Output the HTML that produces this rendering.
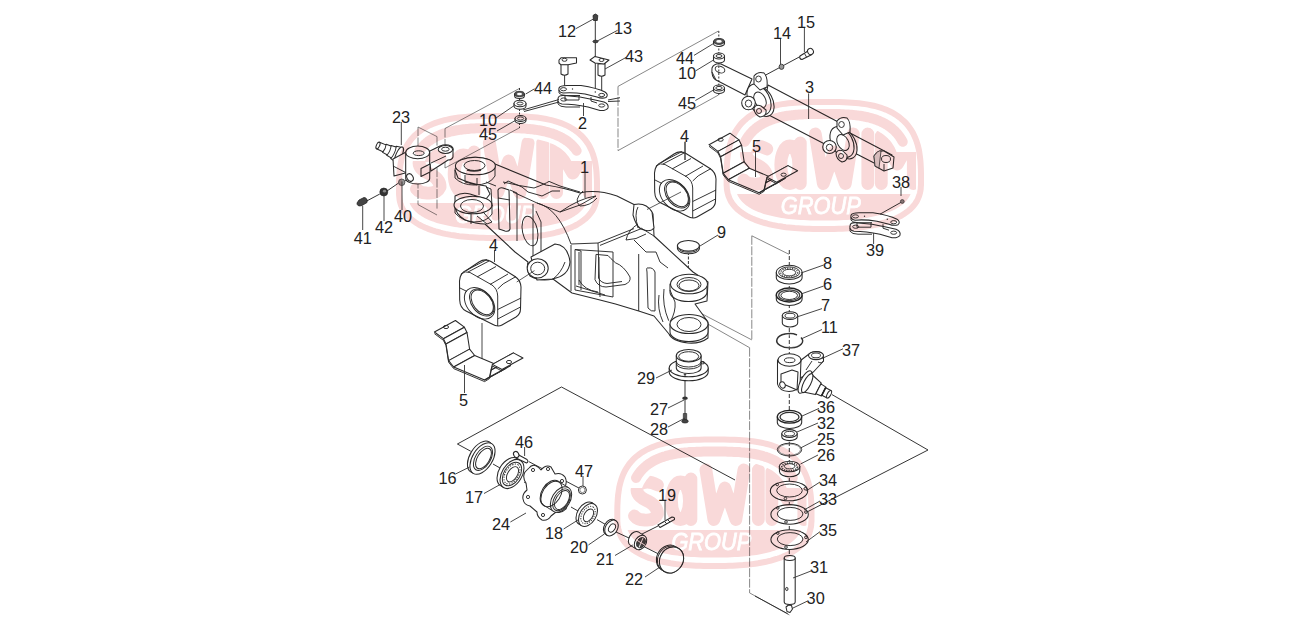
<!DOCTYPE html>
<html><head><meta charset="utf-8"><style>
html,body{margin:0;padding:0;background:#fff;width:1297px;height:621px;overflow:hidden}
svg{display:block}
.p{fill:#fff;stroke:#2a2a2a;stroke-width:1.05;stroke-linejoin:round}
.n{fill:none;stroke:#2a2a2a;stroke-width:0.95}
.k{fill:#444;stroke:#222;stroke-width:0.8}
.g{fill:#ddd;stroke:#333;stroke-width:0.8}
</style></head><body>
<svg width="1297" height="621" viewBox="0 0 1297 621">
<rect width="1297" height="621" fill="#fff"/>
<polyline points="718.5,31 618,86.4" fill="none" stroke="#555" stroke-width="0.7"/>
<polyline points="618,86.4 618,150.6" fill="none" stroke="#555" stroke-width="0.7" stroke-dasharray="9 1.5"/>
<polyline points="618,150.6 718.5,95" fill="none" stroke="#555" stroke-width="0.7"/>
<polyline points="519.5,88.4 445,128.5" fill="none" stroke="#555" stroke-width="0.7"/>
<polyline points="445,128.5 445,168" fill="none" stroke="#555" stroke-width="0.7" stroke-dasharray="9 1.5"/>
<polyline points="445,168 519.5,127.8" fill="none" stroke="#555" stroke-width="0.7"/>
<polyline points="418,127 437,136.6" fill="none" stroke="#555" stroke-width="0.7"/>
<polyline points="437,136.6 437,209" fill="none" stroke="#555" stroke-width="0.7" stroke-dasharray="9 1.5"/>
<polyline points="418,127 418,204.6" fill="none" stroke="#555" stroke-width="0.7" stroke-dasharray="9 1.5"/>
<polyline points="418,204.6 437,215" fill="none" stroke="#555" stroke-width="0.7"/>
<polyline points="789,254.3 751.8,235.8" fill="none" stroke="#555" stroke-width="0.7"/>
<polyline points="751.8,235.8 751.8,339.9" fill="none" stroke="#555" stroke-width="0.7" stroke-dasharray="9 1.5"/>
<polyline points="751.8,339.9 700,312.8" fill="none" stroke="#555" stroke-width="0.7"/>
<polyline points="700,319.6 749.6,347.7" fill="none" stroke="#555" stroke-width="0.7"/>
<polyline points="749.6,347.7 749.6,592.9" fill="none" stroke="#555" stroke-width="0.7" stroke-dasharray="9 1.5"/>
<polyline points="749.6,592.9 789.4,615" fill="none" stroke="#555" stroke-width="0.7"/>
<!-- main axle body 1 -->
<g id="p1">
 <!-- silhouette -->
 <path class="p" d="M455,170 Q456,160 470,157.5 Q487,156 495,164 L546,185 Q565,188 580,193 Q596,189 617,196 L634,204.5 Q648,204 653,214 L654,236 L693,272 L708,282 L707,301 L695,304 L708,322 L708,338 Q700,344 688,343 Q672,341 669,334 L654,316 L638.7,311 L615.5,304 L600,300 L572,293 L553,279 Q540,282 530,276 Q526,270 528,262 L515,252 L485,224 Q476,224 465,220 Q455,214 455,205 L455,196 Q462,192 470,194 L486,199 L490,194 L486,186 Q470,184 458,178 Z"/>
 <!-- upper left boss -->
 <path class="n" d="M455,170 L455,178 Q462,185 474,185 Q490,185 495,176 L495,166"/>
 <ellipse class="p" cx="475.4" cy="166" rx="20" ry="8.7"/>
 <ellipse class="n" cx="474.5" cy="165.5" rx="10.5" ry="5" stroke-width="1"/>
 <path d="M467,170 Q474,172 481,170" stroke="#333" stroke-width="1.4" fill="none"/>
 <path class="n" d="M465,175 L465,182 L477,185 L477,178 M486,182 L496,186"/>
 <!-- lower left boss -->
 <path class="n" d="M455,205 L455,213 Q462,221 474,222 Q487,222 492,214 L492,205"/>
 <ellipse class="p" cx="473" cy="205" rx="19" ry="8.7"/>
 <ellipse class="n" cx="472" cy="206" rx="11.5" ry="6.5"/>
 <path class="n" d="M471,214 L471,224 M477,216 L487,224 L492,222 L484,213"/>
 <!-- web between bosses -->
 <path class="n" d="M479,186 L479,195 M486,187 L491,189 L492,206"/>
 <!-- rib plate -->
 <path class="p" d="M498,190 Q499,187 503,188 L509,190 L510,229 Q509,232 505,231 L499,229 Z"/>
 <path class="n" d="M510,190 L517,193 L517,241 M498,198 L510,200"/>
 <!-- top surface lines -->
 <path class="n" d="M504,184 L508,181 L522,187 L528,192 L542,196 L552,191 L560,191"/>
 <path class="n" d="M513,192 L537,203 L560,212 L580,205 L596,196 M560,212 Q580,198 596,196"/>
 <path class="n" d="M537,203 Q558,208 571,244 L598,243 L634,228.6"/>
 <path class="n" d="M583,191 Q573,200 580,206 Q590,206 597,198"/>
 <!-- oval window left -->
 <ellipse class="n" cx="530" cy="231" rx="7.5" ry="15" transform="rotate(-12 530 231)"/>
 <path class="n" d="M533,204 L533,257 M536,211 L541,222 L541,255 M503,182 Q520,186 534,188 Q545,184 549,181.4 L560,186 L580,192"/>
 <!-- saddle pad -->
 <path class="p" d="M634,204.5 Q646,202 652,212 L654,228 Q650,233 641,229 Q636,226 633,215 Z"/>
 <path class="n" d="M638,207 Q634,214 638,228"/>
 <!-- front face box -->
 <path class="n" d="M571,245 L571,291 M575,249.5 L575,290 L613,297 L613,252 L575,249.5 M579,252 L579,285 M598,243 L600,297"/>
 <path class="n" d="M596,254.4 L595,279.7 Q598,287 606,287 L625,284.5 Q631,282 630,277 Q624,266 615.5,262.8 Q610,258 608,255.5 Z"/>
 <path class="n" d="M599,257 L598.5,278 Q601,283 607,283.5 L622,281.5"/>
 <path class="n" d="M575,249.5 L581,251 L581,290 M576,286 L605,295 M664,289 Q662,305 668.7,320.7 M659,295 Q657,309 663,322"/>
 <path class="n" d="M579,280 Q584,290 598,292"/>
 <!-- right arm lines -->
 <path class="n" d="M641,228 L654,236 M600,245.4 L641,228.7 M638.7,254 L638.7,311 M634,240 L646,252 L656,252 L660,262 L668,268"/>
 <path class="n" d="M648,268 Q646,267 647,272 L648,308 Q651,312 655,311 L655,272 Q653,267 648,268 Z"/>
 <path class="n" d="M638,224 Q628,230 626,240 Q636,240 646,234"/>
 <!-- front pivot boss -->
 <path class="p" d="M531,257 L555,244 Q568,245 570,262 Q569,276 552,279 L537,280 Z"/>
 <ellipse class="p" cx="537.7" cy="268.3" rx="10.5" ry="9.6"/>
 <ellipse class="n" cx="537.7" cy="268.5" rx="7" ry="6.3" stroke-width="1"/>
 <path class="n" d="M553,279 Q561,273 565,262"/>
 <!-- right bosses -->
 <path class="p" d="M670,284 L670,292 A18.5,9.5 0 0 0 707,292 L707,284 Z"/>
 <ellipse class="p" cx="689" cy="284" rx="18.5" ry="9.8"/>
 <ellipse class="n" cx="689" cy="284.5" rx="12" ry="7" stroke-width="1"/>
 <ellipse class="n" cx="689" cy="285.5" rx="10" ry="5.5"/>
 <path class="n" d="M670,290 L675,302 M675,302 Q676,312 670,322"/>
 <path class="p" d="M670,324 L670,332 A19,9.5 0 0 0 708,332 L708,324 Z"/>
 <ellipse class="p" cx="689" cy="324" rx="19" ry="9.5"/>
 <ellipse class="n" cx="689" cy="324.5" rx="12" ry="7"/>
</g>

<!-- bolt 12 washer 13 pins 43 link 2 -->
<g id="p2">
 <path class="n" d="M595.3,20 L595.3,92"/>
 <path class="k" d="M593,15.5 Q595.3,12.5 597.8,15.5 L597.3,20.5 L593.5,20.5 Z"/>
 <ellipse class="k" cx="595.5" cy="41.5" rx="2.6" ry="1.3"/>
 <path class="n" d="M564.6,75 L564.6,88 M601.7,75.8 L601.7,94"/>
 <!-- pin left -->
 <path class="p" d="M561,64.5 L568,64.5 L568,74 Q564.5,76.5 561,74 Z"/>
 <path class="p" d="M559,60 L561,57.8 L576.5,57.8 L576.5,63 L568,64.8 L561,64.8 L559,63 Z"/>
 <ellipse class="n" cx="564.5" cy="59.8" rx="2.5" ry="1.5"/>
 <!-- pin right -->
 <path class="p" d="M598,64 L605,63.5 L605,75 Q601.5,77.5 598,75 Z"/>
 <path class="p" d="M590,60 L595,56.4 L609,60 L604,64 L595,63 Z"/>
 <ellipse class="n" cx="601.5" cy="60" rx="2.5" ry="1.5"/>
<g id="link2">
 <!-- link 2 lower plate -->
 <path class="p" d="M558,99 Q558,95 564,95.5 L580,97 Q596,100 604,102 Q609,104 608,108 Q606,111 600,110.5 L588,107 Q574,104 562,104 Q557,103 558,99 Z"/>
 <path class="n" d="M558,101 L558,104 Q560,107 566,107 L580,107"/>
 <ellipse class="n" cx="563.7" cy="99.5" rx="3" ry="1.6"/>
 <ellipse class="n" cx="601.7" cy="105.5" rx="3" ry="1.6"/>
 <!-- link 2 upper plate -->
 <path class="p" d="M559,88 Q560,85.5 567,85.5 L581,85.5 Q597,88 605,92 Q609,95 606,97.5 Q602,99 597,97 L585,94 Q572,92 563,93 Q558,92 559,88 Z"/>
 <path class="n" d="M559,90 L559,93 Q561,95.5 566,95.5 L580,95.5"/>
 <ellipse class="n" cx="563.5" cy="89.2" rx="3" ry="1.6"/>
 <ellipse class="n" cx="601.7" cy="95" rx="3" ry="1.6"/>
 <path class="n" d="M565,95.5 L565,100 L579,100 L579,95.5 M591,97 L591,101 L597,103"/>
 <circle cx="572.5" cy="89" r="0.7" fill="#333"/>
 <circle cx="595.3" cy="92" r="0.7" fill="#333"/>
</g>
 <use href="#link2" transform="translate(292,127.2)"/>
 <path class="n" d="M608,100 L620,97.7 M608,101.5 L620,101"/>
 <path class="n" d="M523,110 L559,99.5 M524,111.5 L559,102"/>
</g>

<!-- part 3 cylinder -->
<g id="p3">
 <path class="p" d="M712,68 Q714,63 721,64 L752,79 L745,95 L716,80 Q711,77 712,68 Z"/>
 <path class="n" d="M712,72 L716,80"/>
 <ellipse class="n" cx="720" cy="69.5" rx="5" ry="3.2" transform="rotate(20 720 69.5)"/>
 <path class="p" d="M768,85 L842,124 L842,153 L763,112 Z"/>
 <path class="p" d="M850,133 L892,155 L878,165 L843,147 Z"/>
 <ellipse class="p" cx="762" cy="101" rx="16.5" ry="10.5" transform="rotate(62 762 101)"/>
 <ellipse class="p" cx="759" cy="99.5" rx="16.5" ry="10.5" transform="rotate(62 759 99.5)"/>
 <ellipse class="n" cx="760" cy="100" rx="8.5" ry="5.5" transform="rotate(62 760 100)"/>
 <path class="p" d="M754,84 L754,76 Q758,71 764,73 Q768,77 767,87 L760,90 Z"/>
 <ellipse class="n" cx="758.5" cy="79" rx="2.8" ry="3"/>
 <ellipse class="p" cx="748.5" cy="103" rx="6.8" ry="6.8"/>
 <ellipse class="n" cx="748.5" cy="103.5" rx="3.2" ry="3.5"/>
 <path class="p" d="M754,108 Q756,104 761,106 L766,110 Q767,116 760,117 Q754,114 754,108 Z"/>
 <ellipse class="n" cx="759" cy="111" rx="2.5" ry="2.5"/>

 <ellipse class="p" cx="845" cy="143.5" rx="16.5" ry="10.5" transform="rotate(62 845 143.5)"/>
 <ellipse class="p" cx="842" cy="142" rx="16.5" ry="10.5" transform="rotate(62 842 142)"/>
 <ellipse class="n" cx="843" cy="142.5" rx="8.5" ry="5.5" transform="rotate(62 843 142.5)"/>
 <path class="p" d="M837,128 L837,121 Q841,116 847,118 Q851,122 850,132 L843,135 Z"/>
 <ellipse class="n" cx="841.5" cy="124.5" rx="2.8" ry="3"/>
 <ellipse class="p" cx="829.5" cy="147" rx="6.8" ry="6.5"/>
 <ellipse class="n" cx="829.5" cy="147.5" rx="3.2" ry="3.3"/>
 <path class="p" d="M836,153 Q838,149 843,151 L847,155 Q848,161 842,162 Q836,159 836,153 Z"/>
 <ellipse class="n" cx="841" cy="156" rx="2.5" ry="2.5"/>

 <path class="p" d="M874,156 Q878,150 884,151 L894,157 L893,168 L884,171 L875,166 Z"/>
 <path class="g" d="M874,156 Q878,150 881,151 L879,168 L875,166 Z"/>
 <ellipse class="n" cx="886" cy="159" rx="4.5" ry="3.5"/>
 <path class="n" d="M884,164 L884,171"/>
</g>

<!-- washers and bolts -->
<g id="pw">
 <path class="n" d="M765,75.4 L800,56.6"/>
 <path class="p" d="M800,56 L808,51 L811,55 L802,59.5 Q799,59 800,56 Z"/>
 <ellipse class="p" cx="810.5" cy="51.5" rx="2.8" ry="3.2" transform="rotate(-30 810.5 51.5)"/>
 <path class="n" d="M804.5,53.5 L806.5,57"/>
 <ellipse cx="781.5" cy="66.8" rx="2.4" ry="2.6" fill="#999" stroke="#333" stroke-width="0.9"/>
 <!-- left stack -->
 <path class="n" d="M519.5,88 L519.5,128" stroke-dasharray="2 1.5"/>
 <path class="p" d="M514.6,94 L514.6,95.8 A4.9,2.7 0 0 0 524.4,95.8 L524.4,94 Z"/>
 <ellipse cx="519.5" cy="94" rx="4.9" ry="2.7" fill="#555" stroke="#222" stroke-width="0.8"/>
 <ellipse cx="519.5" cy="94" rx="2.5" ry="1.2" fill="#fff"/>
 <path class="p" d="M514,103.5 L514,106 A6,3.3 0 0 0 526,106 L526,103.5 Z"/>
 <ellipse class="p" cx="520" cy="103.5" rx="6" ry="3.3"/>
 <ellipse class="n" cx="520" cy="103.5" rx="3" ry="1.5"/>
 <path class="p" d="M515,118.5 L515,120.5 A5.5,3 0 0 0 526,120.5 L526,118.5 Z"/>
 <ellipse class="p" cx="520.5" cy="118.5" rx="5.5" ry="3"/>
 <ellipse class="n" cx="520.5" cy="118.5" rx="3.2" ry="1.6" stroke-width="1.2"/>
 <!-- right stack -->
 <path class="n" d="M718.8,31 L718.8,95" stroke-dasharray="2 1.5"/>
 <path class="p" d="M713.5,41.4 L713.5,43.4 A5.5,3 0 0 0 724.5,43.4 L724.5,41.4 Z"/>
 <ellipse cx="719" cy="41.4" rx="5.5" ry="3" fill="#555" stroke="#222" stroke-width="0.8"/>
 <ellipse cx="719" cy="41.4" rx="2.8" ry="1.3" fill="#fff"/>
 <path class="p" d="M713.5,56 L713.5,60 A5.5,3 0 0 0 724.5,60 L724.5,56 Z"/>
 <ellipse class="p" cx="719" cy="56" rx="5.5" ry="3"/>
 <ellipse class="n" cx="719" cy="56" rx="3" ry="1.5"/>
 <path class="p" d="M713.5,88 L713.5,90.5 A5.5,3 0 0 0 724.5,90.5 L724.5,88 Z"/>
 <ellipse class="p" cx="719" cy="88" rx="5.5" ry="3"/>
 <ellipse class="n" cx="719" cy="88" rx="3.2" ry="1.6" stroke-width="1.2"/>
</g>

<!-- knuckle 23, 40,41,42 -->
<g id="p23">
 <path class="n" d="M366.7,201 L379.8,194 M387,191 L398.6,183 M405,181 L409,178"/>
 <path class="k" d="M359,200 L364,197.5 Q368,198 367,202.5 L362,205.5 Q357,207 357,203 Z" fill="#333"/>
 <ellipse cx="383.8" cy="192" rx="4" ry="4" fill="#333" stroke="#222" stroke-width="0.6"/>
 <ellipse cx="384.5" cy="191.2" rx="1.6" ry="1.4" fill="#888"/>
 <ellipse cx="401.7" cy="182.3" rx="3.2" ry="3.3" fill="#999" stroke="#333" stroke-width="0.7"/>
 <!-- spindle -->
 <g transform="translate(378,145.5) rotate(24)">
  <path class="p" d="M0,-3.6 L7,-3.8 L7,-4.4 L12,-4.8 L12,-5.4 L17,-6 L17,-6.8 L23,-8 L23,8 L17,6.8 L17,6 L12,5.4 L12,4.8 L7,4.4 L7,3.8 L0,3.6 Z"/>
  <ellipse class="p" cx="0" cy="0" rx="1.6" ry="3.6"/>
  <path class="n" d="M7,-4.4 Q8.5,0 7,4.4 M12,-5.4 Q13.8,0 12,5.4 M17,-6.8 Q19,0 17,6.8"/>
  <ellipse class="p" cx="23" cy="0" rx="3" ry="8.5"/>
 </g>
 <!-- side block -->
 <path class="p" d="M393,159 L408,151 L409,172 L394,176 Z"/>
 <path class="n" d="M393,166 L408.6,174"/>
 <!-- arm -->
 <path class="p" d="M428,152 L440,146 Q446,143.5 451,146 Q454,148 453,151 L453,157 Q452,160 448,160 L442,164 L431,171 Z"/>
 <ellipse class="p" cx="445.4" cy="149.5" rx="7.2" ry="4"/>
 <ellipse class="n" cx="445.4" cy="149.2" rx="3.8" ry="2" stroke-width="1.1"/>
 <path class="n" d="M431,163 L446,156"/>
 <!-- body cylinder -->
 <path class="p" d="M405.7,152.4 L405.7,178.5 A12,5.5 0 0 0 429.7,178.5 L429.7,152.4 Z"/>
 <ellipse class="p" cx="417.7" cy="152.4" rx="12" ry="6.3"/>
 <ellipse class="n" cx="418.7" cy="153.2" rx="5.5" ry="2.4" stroke-width="1"/>
 <path class="p" d="M421,168.5 L430,164 L430,172 L421,176.5 Z"/>
 <ellipse class="p" cx="410" cy="177.5" rx="3" ry="4" transform="rotate(-30 410 177.5)"/>
</g>

<!-- mounts 4 -->
<g transform="translate(0,0)">
 <path class="p" d="M467,270 Q460,272.5 459.5,281 L459.7,300 Q460,308 466,311 L492,324 Q497.7,327.5 502,325 L516,317 Q520.5,314 520.5,309 L521,287 Q520.5,280 515,276.5 L491,261.5 Q485,258 479,262 Z"/>
 <path class="n" d="M461,274 Q465,270.5 470,272.5 L492,285 Q497.5,289 497.7,296 L497.7,326"/>
 <path class="n" d="M497.7,289 Q503,283 509,280.5 L516,276.5"/>
 <path class="n" d="M466,270.5 L487,259.5 M468,272 L489,261 M477,277 L496,266.5 M490,284.5 L508,274 M497.7,319 L520.5,307"/>
 <path class="n" d="M459,287.5 L467,291.5 M497.7,309.5 L521,298"/>
 <ellipse class="n" cx="479.6" cy="303.3" rx="18" ry="12.5" transform="rotate(48 479.6 303.3)"/>
 <ellipse class="n" cx="481.8" cy="302.5" rx="15.3" ry="10" transform="rotate(52 481.8 302.5)" stroke-width="1.2"/>
 <ellipse class="n" cx="482.2" cy="302.3" rx="14" ry="9" transform="rotate(52 482.2 302.3)" stroke-width="0.6"/>
</g>
<g transform="translate(195,-108)">
 <path class="p" d="M467,270 Q460,272.5 459.5,281 L459.7,300 Q460,308 466,311 L492,324 Q497.7,327.5 502,325 L516,317 Q520.5,314 520.5,309 L521,287 Q520.5,280 515,276.5 L491,261.5 Q485,258 479,262 Z"/>
 <path class="n" d="M461,274 Q465,270.5 470,272.5 L492,285 Q497.5,289 497.7,296 L497.7,326"/>
 <path class="n" d="M497.7,289 Q503,283 509,280.5 L516,276.5"/>
 <path class="n" d="M466,270.5 L487,259.5 M468,272 L489,261 M477,277 L496,266.5 M490,284.5 L508,274 M497.7,319 L520.5,307"/>
 <path class="n" d="M459,287.5 L467,291.5 M497.7,309.5 L521,298"/>
 <ellipse class="n" cx="479.6" cy="303.3" rx="18" ry="12.5" transform="rotate(48 479.6 303.3)"/>
 <ellipse class="n" cx="481.8" cy="302.5" rx="15.3" ry="10" transform="rotate(52 481.8 302.5)" stroke-width="1.2"/>
 <ellipse class="n" cx="482.2" cy="302.3" rx="14" ry="9" transform="rotate(52 482.2 302.3)" stroke-width="0.6"/>
</g>
<!-- brackets 5 -->
<g transform="translate(0,0)">
 <path class="p" d="M434.4,332.0 L443.4,338.7 L464.4,327.2 L455.4,320.5Z"/>
 <path class="p" d="M443.4,338.7 L446.0,344.0 L467.0,332.5 L464.4,327.2Z"/>
 <path class="p" d="M446.0,344.0 L448.6,360.6 L469.6,349.1 L467.0,332.5Z"/>
 <path class="p" d="M448.6,360.6 L453.7,367.0 L474.7,355.5 L469.6,349.1Z"/>
 <path class="p" d="M453.7,367.0 L484.6,380.0 L505.6,368.5 L474.7,355.5Z"/>
 <path class="p" d="M484.6,380.0 L489.5,377.0 L510.5,365.5 L505.6,368.5Z"/>
 <path class="p" d="M489.5,377.0 L491.0,370.0 L512.0,358.5 L510.5,365.5Z"/>
 <path class="p" d="M491.0,370.0 L492.4,364.4 L513.4,352.9 L512.0,358.5Z"/>
 <path class="p" d="M492.4,364.4 L502.0,369.5 L523.0,358.0 L513.4,352.9Z"/>
 <path class="n" d="M434.4,333.6 L443.4,340.3 L446.0,345.6 L448.6,362.2 L453.7,368.6 L484.6,381.6 L489.5,378.6 L491.0,371.6 L492.4,366.0 L502.0,371.1"/>
 <ellipse class="n" cx="446" cy="327" rx="2.6" ry="1.6"/>
 <ellipse class="n" cx="509" cy="362" rx="2.6" ry="1.6"/>
</g>
<g transform="translate(274.6,-187.3)">
 <path class="p" d="M434.4,332.0 L443.4,338.7 L464.4,327.2 L455.4,320.5Z"/>
 <path class="p" d="M443.4,338.7 L446.0,344.0 L467.0,332.5 L464.4,327.2Z"/>
 <path class="p" d="M446.0,344.0 L448.6,360.6 L469.6,349.1 L467.0,332.5Z"/>
 <path class="p" d="M448.6,360.6 L453.7,367.0 L474.7,355.5 L469.6,349.1Z"/>
 <path class="p" d="M453.7,367.0 L484.6,380.0 L505.6,368.5 L474.7,355.5Z"/>
 <path class="p" d="M484.6,380.0 L489.5,377.0 L510.5,365.5 L505.6,368.5Z"/>
 <path class="p" d="M489.5,377.0 L491.0,370.0 L512.0,358.5 L510.5,365.5Z"/>
 <path class="p" d="M491.0,370.0 L492.4,364.4 L513.4,352.9 L512.0,358.5Z"/>
 <path class="p" d="M492.4,364.4 L502.0,369.5 L523.0,358.0 L513.4,352.9Z"/>
 <path class="n" d="M434.4,333.6 L443.4,340.3 L446.0,345.6 L448.6,362.2 L453.7,368.6 L484.6,381.6 L489.5,378.6 L491.0,371.6 L492.4,366.0 L502.0,371.1"/>
 <ellipse class="n" cx="446" cy="327" rx="2.6" ry="1.6"/>
 <ellipse class="n" cx="509" cy="362" rx="2.6" ry="1.6"/>
</g>
<!-- cap 9, nut 38 -->
<g>
 <path class="n" d="M688.4,252 L688.4,268" stroke-dasharray="3 1.5"/>
 <path class="p" d="M677.4,245.8 L677.5,249 A11,5.3 0 0 0 699.4,249 L699.4,245.8 Z"/>
 <ellipse class="p" cx="688.4" cy="245.8" rx="11" ry="5.3"/>
 <path class="n" d="M678,248.5 A11,5.3 0 0 0 699,248.5"/>
 <path class="n" d="M880,214.2 L902,201.8"/>
 <circle cx="902.3" cy="201.5" r="1.9" fill="#888" stroke="#333" stroke-width="0.7"/>
</g>

<!-- right column -->
<g id="col">
 <path class="n" d="M789.3,250 L789.3,606" stroke-dasharray="4 2" stroke="#777" stroke-width="0.7"/>
 <!-- 8 bearing -->
 <path class="p" d="M776.3,272.4 L776.3,277.5 A12.9,6.5 0 0 0 802.1,277.5 L802.1,272.4 Z"/>
 <ellipse class="p" cx="789.2" cy="272.4" rx="12.9" ry="7.1"/>
 <ellipse class="n" cx="789.2" cy="272.4" rx="10.5" ry="5.5"/>
 <ellipse class="n" cx="789.2" cy="272.6" rx="6.5" ry="3.3"/>
 <ellipse cx="789.2" cy="272.5" rx="8.5" ry="4.4" fill="none" stroke="#444" stroke-width="1.3" stroke-dasharray="1.2 1.2"/>
 <!-- 6 seal -->
 <path class="p" d="M776.3,295 L776.3,299 A12.9,6.5 0 0 0 802.1,299 L802.1,295 Z"/>
 <ellipse cx="789.2" cy="295" rx="12.9" ry="7" fill="#fff" stroke="#222" stroke-width="1.4"/>
 <ellipse cx="789.2" cy="295.2" rx="10.5" ry="5.4" fill="none" stroke="#444" stroke-width="1.2"/>
 <ellipse class="n" cx="789.2" cy="295.4" rx="8.3" ry="4.1"/>
 <!-- 7 bushing -->
 <path class="p" d="M782.3,315.6 L782.3,323 A7.7,3.9 0 0 0 797.7,323 L797.7,315.6 Z"/>
 <ellipse class="p" cx="790" cy="315.6" rx="7.7" ry="3.9"/>
 <ellipse class="n" cx="790" cy="315.7" rx="5" ry="2.4"/>
 <!-- 11 snap ring -->
 <path d="M801,337.5 A12.9,7.1 1 1 1 797,335" fill="none" stroke="#333" stroke-width="1.5"/>
 <path d="M800.5,338.5 A11.5,6 1 1 1 796.5,336" fill="none" stroke="#fff" stroke-width="0.5"/>
 <!-- 37 knuckle -->
 <path class="p" d="M796,364 L809,354 Q812,351.5 818,351.5 Q823,352.5 823.5,356 L823.5,361 L813.4,372 L800,378 Z"/>
 <path class="n" d="M823.5,361 Q822,364 818,362 M812,361 L806,370"/>
 <ellipse class="p" cx="816" cy="355.6" rx="7.5" ry="4"/>
 <ellipse class="n" cx="816" cy="355.4" rx="4.5" ry="2.4" stroke-width="1.2"/>
 <path class="p" d="M777.5,360 L777.5,384 Q779,391 789,391.5 Q797,391 800,386 L801,360 Z"/>
 <ellipse class="p" cx="789.5" cy="360" rx="11.5" ry="6.2"/>
 <ellipse class="n" cx="789.7" cy="360.2" rx="5.3" ry="2.4"/>
 <path class="p" d="M781,374 L792,370 L798,372 L797,390 L781,383 Z"/>
 <ellipse class="p" cx="782.5" cy="385" rx="2.6" ry="3.2" transform="rotate(-25 782.5 385)"/>
 <g transform="translate(805,382) rotate(27)">
  <path class="p" d="M2,-10 L15,-6.5 L15,6.5 L2,10 Z"/>
  <path class="p" d="M15,-5.5 L21,-5 L21,5 L15,5.5 Z"/>
  <path class="p" d="M21,-4.2 L27,-4.2 L27,4.2 L21,4.2 Z"/>
  <ellipse class="p" cx="27" cy="0" rx="1.8" ry="4.2"/>
  <path d="M21,-4.6 L21,4.6" stroke="#222" stroke-width="1.6"/>
  <ellipse class="p" cx="0" cy="0" rx="4.5" ry="12.5"/>
  <ellipse class="p" cx="2.5" cy="0" rx="3.5" ry="10.5"/>
 </g>
 <path class="n" d="M832,394.6 L928,450 L805,513"/>
 <!-- 36 seal -->
 <path class="p" d="M777.3,416.8 L777.3,422.5 A12.2,6 0 0 0 801.7,422.5 L801.7,416.8 Z"/>
 <ellipse cx="789.5" cy="416.8" rx="12.2" ry="6.4" fill="#fff" stroke="#222" stroke-width="1.3"/>
 <ellipse cx="789.5" cy="417" rx="9.5" ry="4.6" fill="none" stroke="#333" stroke-width="1.3"/>
 <!-- 32 -->
 <path class="p" d="M781.8,433.5 L781.8,437 A7.7,3.6 0 0 0 797.2,437 L797.2,433.5 Z"/>
 <ellipse class="p" cx="789.5" cy="433.5" rx="7.7" ry="3.9"/>
 <ellipse class="n" cx="789.5" cy="433.7" rx="5" ry="2.3" stroke-width="1.1"/>
 <!-- 25 o-ring -->
 <ellipse cx="789.5" cy="449.6" rx="12.2" ry="6.4" fill="none" stroke="#333" stroke-width="1"/>
 <ellipse cx="789.5" cy="449.6" rx="11" ry="5.6" fill="none" stroke="#555" stroke-width="0.6"/>
 <!-- 26 tapered bearing -->
 <path class="p" d="M779.3,466.5 L779.5,471.5 A10.1,5.2 0 0 0 799.7,471.5 L799.9,466.5 Z"/>
 <ellipse class="p" cx="789.6" cy="466.5" rx="10.3" ry="5.3"/>
 <ellipse cx="789.6" cy="467" rx="7.8" ry="3.9" fill="none" stroke="#444" stroke-width="1.8" stroke-dasharray="1.3 1"/>
 <ellipse class="n" cx="789.6" cy="466.3" rx="5.3" ry="2.6"/>
 <!-- 34,33,35 plates -->
 <g id="shim">
  <ellipse class="p" cx="789" cy="491" rx="18.7" ry="9.8"/>
  <ellipse class="n" cx="789.5" cy="490.5" rx="12.8" ry="6.5"/>
  <circle class="n" cx="777.2" cy="484.5" r="1.3"/>
  <circle class="n" cx="805.3" cy="488.7" r="1.3"/>
  <circle class="n" cx="785.4" cy="498.5" r="1.3"/>
 </g>
 <use href="#shim" transform="translate(0.6,23.4)"/>
 <use href="#shim" transform="translate(0.6,48.6)"/>
 <!-- 31 king pin -->
 <path class="p" d="M784.2,558 L784.2,602 A5.5,2.5 0 0 0 795.2,602 L795.2,558 Z"/>
 <ellipse class="p" cx="789.7" cy="558" rx="5.5" ry="2.5"/>
 <ellipse class="n" cx="786.8" cy="589" rx="1.2" ry="1.6"/>
 <!-- 30 nipple -->
 <path class="p" d="M786,607 L788.5,605 L791.5,605.5 L792.5,609 L790,612.5 L787,611.5 Z"/>
 <path class="n" d="M755,596 L787.7,613.7"/>
</g>

<!-- hub assembly -->
<g id="hub">
<path class="n" d="M457.4,444 L470.7,451.2 M493,464 L500,468 M524,482 L530,485 M528.8,461.6 L579.6,488.4 M571,507 L578,511 M597,519.6 L605.7,524.6 M616,532 L629,538 M643.5,546.4 L661,555.2 M640,535 L658,526"/>
<path class="n" d="M457.4,444 L561.5,387 L735,480"/>
<path class="n" d="M685,374 L685,418.5"/>
 <path class="p" d="M669.2,368 L669.2,372 A19.5,8.8 0 0 0 708.2,372 L708.2,368 Z"/>
 <ellipse class="p" cx="688.7" cy="368" rx="19.5" ry="8.8"/>
 <path class="p" d="M676.3,355.7 L676.3,368 A12.4,5.5 0 0 0 701.1,368 L701.1,355.7 Z"/>
 <path class="n" d="M676.3,361.5 A12.4,5.5 0 0 0 701.1,361.5 M676.3,363.5 A12.4,5.5 0 0 0 701.1,363.5"/>
 <ellipse class="p" cx="688.7" cy="355.7" rx="12.4" ry="6.2"/>
 <ellipse class="n" cx="688.7" cy="356.5" rx="10" ry="4.8"/>
 <ellipse class="n" cx="702.8" cy="362.7" rx="1.8" ry="1.2"/>
 <circle cx="685" cy="374.5" r="1.2" fill="#444"/>
 <ellipse cx="685" cy="398.2" rx="2.8" ry="1.6" fill="#333"/>
 <path d="M683.3,413.5 L686.7,413.5 L686.7,420 L683.3,420 Z" fill="#555" stroke="#222" stroke-width="0.6"/><ellipse cx="685" cy="421.3" rx="3.3" ry="1.8" fill="#444" stroke="#222" stroke-width="0.6"/>
<ellipse class="p" cx="480.0" cy="456.9" rx="17.5" ry="10" transform="rotate(-58 480.0 456.9)"/>
<path class="p" d="M489.2,442.1 L470.7,471.8 L473.2,473.3 L491.8,443.7 Z" style="stroke:none"/>
<path class="n" d="M489.2,442.1 L491.8,443.7 M470.7,471.8 L473.2,473.3"/>
<ellipse class="p" cx="482.5" cy="458.5" rx="17.5" ry="10" transform="rotate(-58 482.5 458.5)" />
<ellipse class="n" cx="483.0" cy="458.3" rx="13.5" ry="7.5" transform="rotate(-58 483.0 458.3)" stroke-width="1.2"/>
<ellipse class="n" cx="483.5" cy="458.5" rx="11.5" ry="6" transform="rotate(-58 483.5 458.5)" />
<ellipse class="p" cx="509.0" cy="472.1" rx="16" ry="10" transform="rotate(-58 509.0 472.1)"/>
<path class="p" d="M517.5,458.6 L500.6,485.7 L503.5,487.6 L520.5,460.4 Z" style="stroke:none"/>
<path class="n" d="M517.5,458.6 L520.5,460.4 M500.6,485.7 L503.5,487.6"/>
<ellipse class="p" cx="512.0" cy="474.0" rx="16" ry="10" transform="rotate(-58 512.0 474.0)" />
<ellipse class="n" cx="512.0" cy="474.0" rx="13" ry="8" transform="rotate(-58 512.0 474.0)" />
<ellipse class="n" cx="512.0" cy="474.0" rx="11" ry="6.5" transform="rotate(-58 512.0 474.0)" stroke="#444" stroke-width="1.6" stroke-dasharray="1.3 1.3"/>
<ellipse class="n" cx="512.5" cy="474.3" rx="8.5" ry="4.8" transform="rotate(-58 512.5 474.3)" />
<path class="p" d="M517,454 L527,459.5 Q529,462 526.5,463 L516,458 Z"/>
<ellipse class="p" cx="516.2" cy="454.5" rx="2.5" ry="3.2" transform="rotate(-30 516.2 454.5)" />
<path class="p" d="M529,468 Q533,463 538,467 L541,470 Q546,464 551,467 L555,474 Q561,472 565,477 Q568,483 564,488 L564,497 Q569,502 566,509 Q561,514 556,512 L551,516 Q548,521 542,520 Q537,517 537,512 L530,506 Q524,505 523,499 Q522,494 527,490 L526,483 Q522,477 525,472 Z"/>
<circle class="n" cx="533" cy="470" r="1.6"/>
<circle class="n" cx="548" cy="469" r="1.6"/>
<circle class="n" cx="562" cy="481" r="1.6"/>
<circle class="n" cx="562" cy="507" r="1.6"/>
<circle class="n" cx="543" cy="515" r="1.6"/>
<circle class="n" cx="528" cy="497" r="1.6"/>
<ellipse class="p" cx="550.8" cy="493.1" rx="14" ry="9" transform="rotate(-58 550.8 493.1)"/>
<path class="p" d="M558.2,481.3 L543.4,505.0 L553.6,511.4 L568.4,487.6 Z" style="stroke:none"/>
<path class="n" d="M558.2,481.3 L568.4,487.6 M543.4,505.0 L553.6,511.4"/>
<ellipse class="p" cx="561.0" cy="499.5" rx="14" ry="9" transform="rotate(-58 561.0 499.5)" />
<ellipse class="n" cx="561.5" cy="499.8" rx="12" ry="7.3" transform="rotate(-58 561.5 499.8)" />
<ellipse class="n" cx="562.0" cy="500.0" rx="10.5" ry="6" transform="rotate(-58 562.0 500.0)" />
<ellipse class="n" cx="551.5" cy="494.0" rx="14" ry="9" transform="rotate(-58 551.5 494.0)" />
<circle cx="582.4" cy="490" r="4" fill="#fff" stroke="#333" stroke-width="1"/><circle cx="582.4" cy="490" r="2.6" fill="none" stroke="#555" stroke-width="0.7"/>
<ellipse class="p" cx="585.5" cy="513.4" rx="12.5" ry="8" transform="rotate(-58 585.5 513.4)"/>
<path class="p" d="M592.1,502.8 L578.8,524.0 L581.4,525.6 L594.6,504.4 Z" style="stroke:none"/>
<path class="n" d="M592.1,502.8 L594.6,504.4 M578.8,524.0 L581.4,525.6"/>
<ellipse class="p" cx="588.0" cy="515.0" rx="12.5" ry="8" transform="rotate(-58 588.0 515.0)" stroke-width="1.3"/>
<ellipse class="n" cx="588.0" cy="515.0" rx="9.5" ry="6" transform="rotate(-58 588.0 515.0)" stroke="#444" stroke-width="1.6" stroke-dasharray="1.2 1.2"/>
<ellipse class="n" cx="588.5" cy="515.3" rx="7" ry="4.2" transform="rotate(-58 588.5 515.3)" />
<ellipse class="p" cx="610.2" cy="527.2" rx="8.5" ry="6" transform="rotate(-58 610.2 527.2)"/>
<path class="p" d="M614.7,520.0 L605.7,534.4 L607.0,535.2 L616.0,520.8 Z" style="stroke:none"/>
<path class="n" d="M614.7,520.0 L616.0,520.8 M605.7,534.4 L607.0,535.2"/>
<ellipse class="p" cx="611.5" cy="528.0" rx="8.5" ry="6" transform="rotate(-58 611.5 528.0)" />
<ellipse class="n" cx="612.0" cy="528.0" rx="4.5" ry="3" transform="rotate(-58 612.0 528.0)" />
<ellipse class="p" cx="634.6" cy="538.8" rx="7.8" ry="5.5" transform="rotate(-58 634.6 538.8)"/>
<path class="p" d="M638.7,532.2 L630.4,545.4 L636.4,549.1 L644.6,535.9 Z" style="stroke:none"/>
<path class="n" d="M638.7,532.2 L644.6,535.9 M630.4,545.4 L636.4,549.1"/>
<ellipse class="p" cx="640.5" cy="542.5" rx="7.8" ry="5.5" transform="rotate(-58 640.5 542.5)" />
<ellipse class="k" cx="641.0" cy="542.7" rx="5.5" ry="4" transform="rotate(-58 641.0 542.7)" fill="#4a3535"/>
<path d="M636.5,540 L645.5,545.5 M639,547.5 L643,538" stroke="#fff" stroke-width="0.9"/>
<path class="p" d="M658,525 L672,517 Q675,517 674.5,519.5 L660,527.5 Z"/><path class="n" d="M665,522 L667,524 M668,520 L670,522"/>
<ellipse class="p" cx="668.5" cy="558.1" rx="13.5" ry="11.5" transform="rotate(-58 668.5 558.1)"/>
<path class="p" d="M675.7,546.7 L661.4,569.6 L664.3,571.4 L678.7,548.6 Z" style="stroke:none"/>
<path class="n" d="M675.7,546.7 L678.7,548.6 M661.4,569.6 L664.3,571.4"/>
<ellipse class="p" cx="671.5" cy="560.0" rx="13.5" ry="11.5" transform="rotate(-58 671.5 560.0)" />
<ellipse class="n" cx="669.5" cy="559.0" rx="13.5" ry="11.5" transform="rotate(-58 669.5 559.0)" />
<ellipse class="p" cx="671.5" cy="560.0" rx="13.5" ry="11.5" transform="rotate(-58 671.5 560.0)" />
</g>
<polyline points="575.6,28.8 594,18.7" fill="none" stroke="#333" stroke-width="0.9"/>
<polyline points="617.6,30.3 597.3,41" fill="none" stroke="#333" stroke-width="0.9"/>
<polyline points="626.3,57.3 605,69" fill="none" stroke="#333" stroke-width="0.9"/>
<polyline points="534.5,88.8 525.7,94" fill="none" stroke="#333" stroke-width="0.9"/>
<polyline points="401.3,122 401.3,145" fill="none" stroke="#333" stroke-width="0.9"/>
<polyline points="496,118 514,105.7" fill="none" stroke="#333" stroke-width="0.9"/>
<polyline points="497,131 515,120.7" fill="none" stroke="#333" stroke-width="0.9"/>
<polyline points="402,181.5 402,210" fill="none" stroke="#333" stroke-width="0.9"/>
<polyline points="384,193 384,221" fill="none" stroke="#333" stroke-width="0.9"/>
<polyline points="362.7,206 362.7,230" fill="none" stroke="#333" stroke-width="0.9"/>
<polyline points="694,55.4 713.5,43.5" fill="none" stroke="#333" stroke-width="0.9"/>
<polyline points="695.4,71 713.5,60" fill="none" stroke="#333" stroke-width="0.9"/>
<polyline points="695.4,100.5 713.5,90" fill="none" stroke="#333" stroke-width="0.9"/>
<polyline points="685,141.8 685,160" fill="none" stroke="#333" stroke-width="0.9"/>
<polyline points="780.5,38.7 780.5,64" fill="none" stroke="#333" stroke-width="0.9"/>
<polyline points="804.4,28 804.4,52" fill="none" stroke="#333" stroke-width="0.9"/>
<polyline points="808.6,93.4 808.6,119" fill="none" stroke="#333" stroke-width="0.9"/>
<polyline points="755.5,151 755.5,177" fill="none" stroke="#333" stroke-width="0.9"/>
<polyline points="901,187 901,196" fill="none" stroke="#333" stroke-width="0.9"/>
<polyline points="873.6,233 873.6,244" fill="none" stroke="#333" stroke-width="0.9"/>
<polyline points="823.7,265 801,273" fill="none" stroke="#333" stroke-width="0.9"/>
<polyline points="823.7,286 801,294" fill="none" stroke="#333" stroke-width="0.9"/>
<polyline points="822,308.6 798,316.6" fill="none" stroke="#333" stroke-width="0.9"/>
<polyline points="822,329.5 801,339" fill="none" stroke="#333" stroke-width="0.9"/>
<polyline points="843,348.8 822,358.5" fill="none" stroke="#333" stroke-width="0.9"/>
<polyline points="819,408.4 801,416.5" fill="none" stroke="#333" stroke-width="0.9"/>
<polyline points="818,423 797,432" fill="none" stroke="#333" stroke-width="0.9"/>
<polyline points="818,439 800.5,448" fill="none" stroke="#333" stroke-width="0.9"/>
<polyline points="818,455 800.5,464" fill="none" stroke="#333" stroke-width="0.9"/>
<polyline points="820,482 806,491" fill="none" stroke="#333" stroke-width="0.9"/>
<polyline points="820,501 804,510" fill="none" stroke="#333" stroke-width="0.9"/>
<polyline points="820,531.7 806,542" fill="none" stroke="#333" stroke-width="0.9"/>
<polyline points="811,571 793,578" fill="none" stroke="#333" stroke-width="0.9"/>
<polyline points="807.6,601 793,608" fill="none" stroke="#333" stroke-width="0.9"/>
<polyline points="524.6,447 524.6,456" fill="none" stroke="#333" stroke-width="0.9"/>
<polyline points="583,476 583,486" fill="none" stroke="#333" stroke-width="0.9"/>
<polyline points="455.5,474 469.6,467" fill="none" stroke="#333" stroke-width="0.9"/>
<polyline points="484,493.5 500,484.6" fill="none" stroke="#333" stroke-width="0.9"/>
<polyline points="510.4,522 526,513" fill="none" stroke="#333" stroke-width="0.9"/>
<polyline points="563.6,529 578,520" fill="none" stroke="#333" stroke-width="0.9"/>
<polyline points="588.4,545 604.4,534" fill="none" stroke="#333" stroke-width="0.9"/>
<polyline points="615,555.5 632.8,545" fill="none" stroke="#333" stroke-width="0.9"/>
<polyline points="585,172 585,198" fill="none" stroke="#333" stroke-width="0.9"/>
<polyline points="494.5,250 494.5,262" fill="none" stroke="#333" stroke-width="0.9"/>
<polyline points="718,235 700,246" fill="none" stroke="#333" stroke-width="0.9"/>
<polyline points="656,378 672,370" fill="none" stroke="#333" stroke-width="0.9"/>
<polyline points="668,408 684,400" fill="none" stroke="#333" stroke-width="0.9"/>
<polyline points="668,427 685,418" fill="none" stroke="#333" stroke-width="0.9"/>
<polyline points="464.5,393 464.5,365" fill="none" stroke="#333" stroke-width="0.9"/>
<polyline points="482,323 482,359" fill="none" stroke="#333" stroke-width="0.9"/>
<polyline points="681,192 647,209.5" fill="none" stroke="#333" stroke-width="0.8"/>
<polyline points="516.7,282 534.5,270.6" fill="none" stroke="#333" stroke-width="0.8"/>
<polyline points="685,141.8 685,160" fill="none" stroke="#333" stroke-width="0.9"/>
<polyline points="583.5,116 583.5,103" fill="none" stroke="#333" stroke-width="0.9"/>
<polyline points="665,500 665,520" fill="none" stroke="#333" stroke-width="0.9"/>
<polyline points="645,577 660,567" fill="none" stroke="#333" stroke-width="0.9"/>
<g font-family="Liberation Sans" fill="#222">
<text x="558.0" y="36.8" font-size="16.3">12</text>
<text x="614.0" y="33.8" font-size="16.3">13</text>
<text x="625.0" y="61.8" font-size="16.3">43</text>
<text x="534.0" y="93.8" font-size="16.3">44</text>
<text x="479.0" y="125.8" font-size="16.3">10</text>
<text x="479.0" y="139.8" font-size="16.3">45</text>
<text x="392.0" y="122.8" font-size="16.3">23</text>
<text x="578.0" y="128.8" font-size="16.3">2</text>
<text x="676.0" y="63.8" font-size="16.3">44</text>
<text x="678.0" y="79.4" font-size="16.3">10</text>
<text x="678.0" y="108.8" font-size="16.3">45</text>
<text x="680.0" y="141.8" font-size="16.3">4</text>
<text x="773.0" y="39.4" font-size="16.3">14</text>
<text x="797.0" y="27.8" font-size="16.3">15</text>
<text x="805.0" y="92.8" font-size="16.3">3</text>
<text x="752.0" y="151.8" font-size="16.3">5</text>
<text x="892.0" y="187.8" font-size="16.3">38</text>
<text x="866.0" y="255.8" font-size="16.3">39</text>
<text x="823.0" y="268.8" font-size="16.3">8</text>
<text x="823.0" y="289.8" font-size="16.3">6</text>
<text x="821.0" y="311.3" font-size="16.3">7</text>
<text x="821.0" y="333.3" font-size="16.3">11</text>
<text x="842.0" y="355.8" font-size="16.3">37</text>
<text x="817.0" y="412.8" font-size="16.3">36</text>
<text x="817.0" y="428.8" font-size="16.3">32</text>
<text x="817.0" y="445.3" font-size="16.3">25</text>
<text x="817.0" y="461.3" font-size="16.3">26</text>
<text x="819.0" y="485.8" font-size="16.3">34</text>
<text x="819.0" y="504.8" font-size="16.3">33</text>
<text x="819.0" y="535.8" font-size="16.3">35</text>
<text x="810.0" y="573.4" font-size="16.3">31</text>
<text x="806.6" y="603.8" font-size="16.3">30</text>
<text x="717.0" y="237.8" font-size="16.3">9</text>
<text x="580.0" y="172.8" font-size="16.3">1</text>
<text x="489.0" y="250.8" font-size="16.3">4</text>
<text x="394.0" y="222.2" font-size="16.3">40</text>
<text x="375.0" y="232.8" font-size="16.3">42</text>
<text x="353.7" y="243.5" font-size="16.3">41</text>
<text x="637.0" y="383.8" font-size="16.3">29</text>
<text x="650.0" y="414.8" font-size="16.3">27</text>
<text x="650.0" y="434.8" font-size="16.3">28</text>
<text x="459.0" y="405.8" font-size="16.3">5</text>
<text x="515.0" y="447.8" font-size="16.3">46</text>
<text x="575.0" y="476.8" font-size="16.3">47</text>
<text x="438.5" y="483.8" font-size="16.3">16</text>
<text x="465.0" y="502.8" font-size="16.3">17</text>
<text x="492.0" y="529.8" font-size="16.3">24</text>
<text x="545.0" y="538.8" font-size="16.3">18</text>
<text x="570.0" y="552.8" font-size="16.3">20</text>
<text x="596.0" y="564.8" font-size="16.3">21</text>
<text x="625.0" y="584.8" font-size="16.3">22</text>
<text x="658.0" y="500.8" font-size="16.3">19</text>
</g>
<g style="mix-blend-mode:multiply">
<path d="M921.0,182.0 L921.0,184.9 L920.8,187.1 L920.7,189.1 L920.4,190.9 L920.0,192.7 L919.6,194.3 L919.1,195.9 L918.5,197.4 L917.9,198.9 L917.2,200.4 L916.4,201.8 L915.5,203.1 L914.6,204.5 L913.5,205.7 L912.4,207.0 L911.3,208.2 L910.0,209.4 L908.7,210.5 L907.3,211.6 L905.8,212.7 L904.3,213.8 L902.7,214.8 L901.0,215.8 L899.3,216.7 L897.5,217.6 L895.6,218.5 L893.6,219.3 L891.6,220.2 L889.5,220.9 L887.3,221.7 L885.1,222.4 L882.8,223.0 L880.4,223.7 L878.0,224.3 L875.5,224.9 L872.9,225.4 L870.2,225.9 L867.5,226.3 L864.7,226.8 L861.8,227.2 L858.8,227.5 L855.7,227.8 L852.6,228.1 L849.3,228.3 L845.8,228.5 L842.3,228.7 L838.5,228.8 L834.4,228.9 L829.9,229.0 L823.8,229.0 L817.7,229.0 L813.2,228.9 L809.1,228.8 L805.3,228.7 L801.8,228.5 L798.3,228.3 L795.0,228.1 L791.9,227.8 L788.8,227.5 L785.8,227.2 L782.9,226.8 L780.1,226.3 L777.4,225.9 L774.7,225.4 L772.1,224.9 L769.6,224.3 L767.2,223.7 L764.8,223.0 L762.5,222.4 L760.3,221.7 L758.1,220.9 L756.0,220.2 L754.0,219.3 L752.0,218.5 L750.1,217.6 L748.3,216.7 L746.6,215.8 L744.9,214.8 L743.3,213.8 L741.8,212.7 L740.3,211.6 L738.9,210.5 L737.6,209.4 L736.3,208.2 L735.2,207.0 L734.1,205.7 L733.0,204.5 L732.1,203.1 L731.2,201.8 L730.4,200.4 L729.7,198.9 L729.1,197.4 L728.5,195.9 L728.0,194.3 L727.6,192.7 L727.2,190.9 L726.9,189.1 L726.8,187.1 L726.6,184.9 L726.6,182.0 L726.6,174.0 L726.7,169.4 L726.9,165.4 L727.1,162.0 L727.4,158.8 L727.8,155.8 L728.2,153.0 L728.6,150.4 L729.2,147.8 L729.8,145.4 L730.5,143.1 L731.2,140.9 L732.0,138.8 L732.9,136.7 L733.8,134.7 L734.8,132.8 L735.8,131.0 L737.0,129.2 L738.2,127.5 L739.4,125.9 L740.7,124.3 L742.1,122.7 L743.6,121.3 L745.1,119.9 L746.7,118.5 L748.3,117.2 L750.0,116.0 L751.8,114.8 L753.7,113.6 L755.6,112.5 L757.6,111.5 L759.7,110.5 L761.8,109.6 L764.1,108.7 L766.4,107.9 L768.8,107.2 L771.3,106.4 L773.9,105.8 L776.6,105.2 L779.4,104.6 L782.3,104.1 L785.4,103.7 L788.6,103.3 L792.0,102.9 L795.6,102.7 L799.5,102.4 L803.7,102.2 L808.4,102.1 L814.1,102.0 L823.8,102.0 L833.5,102.0 L839.2,102.1 L843.9,102.2 L848.1,102.4 L852.0,102.7 L855.6,102.9 L859.0,103.3 L862.2,103.7 L865.3,104.1 L868.2,104.6 L871.0,105.2 L873.7,105.8 L876.3,106.4 L878.8,107.2 L881.2,107.9 L883.5,108.7 L885.8,109.6 L887.9,110.5 L890.0,111.5 L892.0,112.5 L893.9,113.6 L895.8,114.8 L897.6,116.0 L899.3,117.2 L900.9,118.5 L902.5,119.9 L904.0,121.3 L905.5,122.7 L906.9,124.3 L908.2,125.9 L909.4,127.5 L910.6,129.2 L911.8,131.0 L912.8,132.8 L913.8,134.7 L914.7,136.7 L915.6,138.8 L916.4,140.9 L917.1,143.1 L917.8,145.4 L918.4,147.8 L919.0,150.4 L919.4,153.0 L919.8,155.8 L920.2,158.8 L920.5,162.0 L920.7,165.4 L920.9,169.4 L921.0,174.0Z" fill="none" stroke="#f9d9d9" stroke-width="6"/>
<path d="M744.9,141.8 L745.3,141.0 L745.8,140.2 L746.2,139.4 L746.7,138.6 L747.2,137.9 L747.7,137.1 L748.2,136.4 L748.7,135.7 L749.3,135.0 L749.8,134.3 L750.4,133.6 L751.0,132.9 L751.6,132.3 L752.2,131.6 L752.8,131.0 L753.5,130.4 L754.1,129.8 L754.8,129.2 L755.5,128.6 L756.2,128.0 L756.9,127.5 L757.6,126.9 L758.4,126.4 L759.1,125.9 L759.9,125.3 L760.7,124.8 L761.5,124.4 L762.3,123.9 L763.2,123.4 L764.0,123.0 L764.9,122.5 L765.8,122.1 L766.7,121.7 L767.6,121.3 L768.5,120.9 L769.5,120.5 L770.5,120.1 L771.4,119.7 L772.4,119.4 L773.5,119.0 L774.5,118.7 L775.6,118.4 L776.7,118.1 L777.8,117.8 L778.9,117.5 L780.0,117.2 L781.2,117.0 L782.4,116.7 L783.6,116.5 L784.9,116.2 L786.1,116.0 L787.4,115.8 L788.7,115.6 L790.1,115.4 L791.5,115.3 L792.9,115.1 L794.4,114.9 L795.9,114.8 L797.5,114.7 L799.1,114.6 L800.7,114.5 L802.5,114.4 L804.3,114.3 L806.2,114.2 L808.2,114.1 L810.3,114.1 L812.7,114.1 L815.3,114.0 L818.5,114.0 L823.8,114.0 L829.1,114.0 L832.3,114.0 L834.9,114.1 L837.3,114.1 L839.4,114.1 L841.4,114.2 L843.3,114.3 L845.1,114.4 L846.9,114.5 L848.5,114.6 L850.1,114.7 L851.7,114.8 L853.2,114.9 L854.7,115.1 L856.1,115.3 L857.5,115.4 L858.9,115.6 L860.2,115.8 L861.5,116.0 L862.7,116.2 L864.0,116.5 L865.2,116.7 L866.4,117.0 L867.6,117.2 L868.7,117.5 L869.8,117.8 L870.9,118.1 L872.0,118.4 L873.1,118.7 L874.1,119.0 L875.2,119.4 L876.2,119.7 L877.1,120.1 L878.1,120.5 L879.1,120.9 L880.0,121.3 L880.9,121.7 L881.8,122.1 L882.7,122.5 L883.6,123.0 L884.4,123.4 L885.3,123.9 L886.1,124.4 L886.9,124.8 L887.7,125.3 L888.5,125.9 L889.2,126.4 L890.0,126.9 L890.7,127.5 L891.4,128.0 L892.1,128.6 L892.8,129.2 L893.5,129.8 L894.1,130.4 L894.8,131.0 L895.4,131.6 L896.0,132.3 L896.6,132.9 L897.2,133.6 L897.8,134.3 L898.3,135.0 L898.9,135.7 L899.4,136.4 L899.9,137.1 L900.4,137.9 L900.9,138.6 L901.4,139.4 L901.8,140.2 L902.3,141.0 L902.7,141.8" fill="none" stroke="#f9d9d9" stroke-width="10" stroke-linecap="round"/>
<clipPath id="gcr"><rect x="723.5999999999999" y="194.0" width="200.39999999999998" height="50"/></clipPath>
<path d="M912.5,182.0 L912.5,184.4 L912.4,186.2 L912.2,187.8 L911.9,189.3 L911.6,190.7 L911.2,192.1 L910.8,193.4 L910.3,194.6 L909.7,195.9 L909.0,197.0 L908.3,198.2 L907.5,199.3 L906.6,200.4 L905.7,201.4 L904.7,202.5 L903.6,203.5 L902.5,204.4 L901.3,205.4 L900.0,206.3 L898.7,207.2 L897.3,208.0 L895.8,208.9 L894.3,209.7 L892.7,210.4 L891.0,211.2 L889.3,211.9 L887.5,212.6 L885.7,213.3 L883.8,213.9 L881.8,214.5 L879.7,215.1 L877.6,215.6 L875.5,216.1 L873.3,216.6 L871.0,217.1 L868.6,217.5 L866.2,217.9 L863.7,218.3 L861.1,218.7 L858.5,219.0 L855.7,219.3 L852.9,219.5 L850.0,219.8 L847.0,220.0 L843.9,220.1 L840.6,220.3 L837.2,220.4 L833.5,220.4 L829.4,220.5 L823.8,220.5 L818.2,220.5 L814.1,220.4 L810.4,220.4 L807.0,220.3 L803.7,220.1 L800.6,220.0 L797.6,219.8 L794.7,219.5 L791.9,219.3 L789.1,219.0 L786.5,218.7 L783.9,218.3 L781.4,217.9 L779.0,217.5 L776.6,217.1 L774.3,216.6 L772.1,216.1 L770.0,215.6 L767.9,215.1 L765.8,214.5 L763.8,213.9 L761.9,213.3 L760.1,212.6 L758.3,211.9 L756.6,211.2 L754.9,210.4 L753.3,209.7 L751.8,208.9 L750.3,208.0 L748.9,207.2 L747.6,206.3 L746.3,205.4 L745.1,204.4 L744.0,203.5 L742.9,202.5 L741.9,201.4 L741.0,200.4 L740.1,199.3 L739.3,198.2 L738.6,197.0 L737.9,195.9 L737.3,194.6 L736.8,193.4 L736.4,192.1 L736.0,190.7 L735.7,189.3 L735.4,187.8 L735.2,186.2 L735.1,184.4 L735.1,182.0 L735.1,174.9 L735.2,170.7 L735.4,167.2 L735.6,164.1 L735.8,161.2 L736.2,158.6 L736.5,156.1 L737.0,153.7 L737.5,151.5 L738.0,149.3 L738.6,147.3 L739.3,145.3 L740.0,143.4 L740.8,141.5 L741.7,139.8 L742.6,138.1 L743.5,136.4 L744.6,134.8 L745.6,133.3 L746.8,131.8 L748.0,130.4 L749.3,129.0 L750.6,127.7 L752.0,126.5 L753.4,125.3 L754.9,124.1 L756.5,123.0 L758.1,121.9 L759.8,120.9 L761.6,119.9 L763.4,119.0 L765.3,118.1 L767.3,117.3 L769.3,116.5 L771.4,115.8 L773.6,115.1 L775.9,114.5 L778.2,113.9 L780.7,113.3 L783.3,112.9 L785.9,112.4 L788.7,112.0 L791.7,111.7 L794.8,111.3 L798.0,111.1 L801.6,110.9 L805.4,110.7 L809.8,110.6 L815.0,110.5 L823.8,110.5 L832.6,110.5 L837.8,110.6 L842.2,110.7 L846.0,110.9 L849.6,111.1 L852.8,111.3 L855.9,111.7 L858.9,112.0 L861.7,112.4 L864.3,112.9 L866.9,113.3 L869.4,113.9 L871.7,114.5 L874.0,115.1 L876.2,115.8 L878.3,116.5 L880.3,117.3 L882.3,118.1 L884.2,119.0 L886.0,119.9 L887.8,120.9 L889.5,121.9 L891.1,123.0 L892.7,124.1 L894.2,125.3 L895.6,126.5 L897.0,127.7 L898.3,129.0 L899.6,130.4 L900.8,131.8 L902.0,133.3 L903.0,134.8 L904.1,136.4 L905.0,138.1 L905.9,139.8 L906.8,141.5 L907.6,143.4 L908.3,145.3 L909.0,147.3 L909.6,149.3 L910.1,151.5 L910.6,153.7 L911.1,156.1 L911.4,158.6 L911.8,161.2 L912.0,164.1 L912.2,167.2 L912.4,170.7 L912.5,174.9Z" fill="#f9d9d9" clip-path="url(#gcr)"/>
<clipPath id="lcr"><path d="M900.0,182.0 L900.0,183.6 L899.9,184.8 L899.7,185.9 L899.5,186.9 L899.2,187.9 L898.9,188.8 L898.5,189.7 L898.1,190.5 L897.6,191.4 L897.0,192.2 L896.4,192.9 L895.7,193.7 L894.9,194.4 L894.1,195.1 L893.3,195.8 L892.4,196.5 L891.4,197.1 L890.4,197.8 L889.3,198.4 L888.1,199.0 L886.9,199.6 L885.7,200.1 L884.3,200.7 L883.0,201.2 L881.5,201.7 L880.1,202.2 L878.5,202.7 L876.9,203.1 L875.3,203.5 L873.6,203.9 L871.9,204.3 L870.1,204.7 L868.2,205.1 L866.3,205.4 L864.3,205.7 L862.3,206.0 L860.2,206.3 L858.1,206.5 L855.9,206.8 L853.6,207.0 L851.2,207.2 L848.8,207.3 L846.3,207.5 L843.8,207.6 L841.1,207.7 L838.3,207.8 L835.3,207.9 L832.1,208.0 L828.6,208.0 L823.8,208.0 L819.0,208.0 L815.5,208.0 L812.3,207.9 L809.3,207.8 L806.5,207.7 L803.8,207.6 L801.3,207.5 L798.8,207.3 L796.4,207.2 L794.0,207.0 L791.7,206.8 L789.5,206.5 L787.4,206.3 L785.3,206.0 L783.3,205.7 L781.3,205.4 L779.4,205.1 L777.5,204.7 L775.7,204.3 L774.0,203.9 L772.3,203.5 L770.7,203.1 L769.1,202.7 L767.5,202.2 L766.1,201.7 L764.6,201.2 L763.3,200.7 L761.9,200.1 L760.7,199.6 L759.5,199.0 L758.3,198.4 L757.2,197.8 L756.2,197.1 L755.2,196.5 L754.3,195.8 L753.5,195.1 L752.7,194.4 L751.9,193.7 L751.2,192.9 L750.6,192.2 L750.0,191.4 L749.5,190.5 L749.1,189.7 L748.7,188.8 L748.4,187.9 L748.1,186.9 L747.9,185.9 L747.7,184.8 L747.6,183.6 L747.6,182.0 L747.6,176.1 L747.7,172.7 L747.8,169.8 L748.0,167.2 L748.2,164.9 L748.5,162.7 L748.8,160.6 L749.2,158.7 L749.6,156.8 L750.1,155.0 L750.6,153.3 L751.2,151.7 L751.8,150.1 L752.5,148.6 L753.2,147.1 L754.0,145.7 L754.8,144.4 L755.7,143.1 L756.7,141.8 L757.6,140.6 L758.7,139.4 L759.8,138.3 L760.9,137.2 L762.1,136.2 L763.3,135.2 L764.6,134.2 L766.0,133.3 L767.4,132.4 L768.8,131.6 L770.3,130.8 L771.9,130.0 L773.5,129.3 L775.2,128.6 L777.0,128.0 L778.8,127.4 L780.7,126.8 L782.6,126.3 L784.7,125.8 L786.8,125.3 L789.0,124.9 L791.3,124.6 L793.7,124.2 L796.2,124.0 L798.8,123.7 L801.7,123.5 L804.7,123.3 L808.0,123.2 L811.8,123.1 L816.2,123.0 L823.8,123.0 L831.4,123.0 L835.8,123.1 L839.6,123.2 L842.9,123.3 L845.9,123.5 L848.8,123.7 L851.4,124.0 L853.9,124.2 L856.3,124.6 L858.6,124.9 L860.8,125.3 L862.9,125.8 L865.0,126.3 L866.9,126.8 L868.8,127.4 L870.6,128.0 L872.4,128.6 L874.1,129.3 L875.7,130.0 L877.3,130.8 L878.8,131.6 L880.2,132.4 L881.6,133.3 L883.0,134.2 L884.3,135.2 L885.5,136.2 L886.7,137.2 L887.8,138.3 L888.9,139.4 L890.0,140.6 L890.9,141.8 L891.9,143.1 L892.8,144.4 L893.6,145.7 L894.4,147.1 L895.1,148.6 L895.8,150.1 L896.4,151.7 L897.0,153.3 L897.5,155.0 L898.0,156.8 L898.4,158.7 L898.8,160.6 L899.1,162.7 L899.4,164.9 L899.6,167.2 L899.8,169.8 L899.9,172.7 L900.0,176.1Z"/><rect x="731.5999999999999" y="152.0" width="184.39999999999998" height="40"/></clipPath>
<g clip-path="url(#lcr)"><g transform="translate(823.8,194.0) scale(1.000,1)" fill="none" stroke-linejoin="round" stroke-linecap="round">
<path d="M-57,-45 Q-68,-51 -76,-45 Q-81,-36 -69,-30 Q-57,-25 -57,-16 Q-60,-9 -70,-10 Q-77,-10 -80,-14 M-23.5,-51 L-23.5,-10.5 M-34,-48 A9,18.8 0 1 0 -34,-10.4 A9,18.8 0 1 0 -34,-48 M-8.5,-60 L-0.5,-10.5 L10.5,-42 L21.5,-10.5 L29.5,-60 M44,-60 L44,-10.5 M57.5,-10.5 L57.5,-58 L73.5,-30 L89.5,-58 L89.5,-10.5" stroke="#f9d9d9" stroke-width="12.8"/>
</g></g>
<text x="820.8" y="214.0" text-anchor="middle" font-family="Liberation Sans" font-style="italic" font-size="23.5" fill="#fff" stroke="#fff" stroke-width="0.8" textLength="80" lengthAdjust="spacingAndGlyphs">GROUP</text>
<path d="M597.0,191.0 L597.0,193.9 L596.8,196.1 L596.6,198.1 L596.4,199.9 L596.0,201.7 L595.6,203.3 L595.1,204.9 L594.5,206.4 L593.8,207.9 L593.1,209.4 L592.3,210.8 L591.4,212.1 L590.4,213.5 L589.4,214.7 L588.3,216.0 L587.1,217.2 L585.8,218.4 L584.5,219.5 L583.0,220.6 L581.6,221.7 L580.0,222.8 L578.4,223.8 L576.7,224.8 L574.9,225.7 L573.0,226.6 L571.1,227.5 L569.1,228.3 L567.1,229.2 L564.9,229.9 L562.7,230.7 L560.4,231.4 L558.1,232.0 L555.7,232.7 L553.2,233.3 L550.6,233.9 L548.0,234.4 L545.3,234.9 L542.5,235.3 L539.6,235.8 L536.7,236.2 L533.7,236.5 L530.5,236.8 L527.3,237.1 L523.9,237.3 L520.4,237.5 L516.8,237.7 L512.9,237.8 L508.8,237.9 L504.2,238.0 L498.0,238.0 L491.8,238.0 L487.2,237.9 L483.1,237.8 L479.2,237.7 L475.6,237.5 L472.1,237.3 L468.7,237.1 L465.5,236.8 L462.3,236.5 L459.3,236.2 L456.4,235.8 L453.5,235.3 L450.7,234.9 L448.0,234.4 L445.4,233.9 L442.8,233.3 L440.3,232.7 L437.9,232.0 L435.6,231.4 L433.3,230.7 L431.1,229.9 L428.9,229.2 L426.9,228.3 L424.9,227.5 L423.0,226.6 L421.1,225.7 L419.3,224.8 L417.6,223.8 L416.0,222.8 L414.4,221.7 L413.0,220.6 L411.5,219.5 L410.2,218.4 L408.9,217.2 L407.7,216.0 L406.6,214.7 L405.6,213.5 L404.6,212.1 L403.7,210.8 L402.9,209.4 L402.2,207.9 L401.5,206.4 L400.9,204.9 L400.4,203.3 L400.0,201.7 L399.6,199.9 L399.4,198.1 L399.2,196.1 L399.0,193.9 L399.0,191.0 L399.0,183.5 L399.1,179.2 L399.3,175.5 L399.5,172.2 L399.8,169.2 L400.2,166.4 L400.6,163.8 L401.1,161.3 L401.6,159.0 L402.3,156.7 L402.9,154.6 L403.7,152.5 L404.5,150.5 L405.4,148.6 L406.3,146.7 L407.3,144.9 L408.4,143.2 L409.6,141.5 L410.8,139.9 L412.0,138.4 L413.4,136.9 L414.8,135.5 L416.3,134.1 L417.8,132.7 L419.4,131.5 L421.1,130.3 L422.9,129.1 L424.7,128.0 L426.6,126.9 L428.5,125.9 L430.6,124.9 L432.7,124.0 L434.9,123.1 L437.2,122.3 L439.5,121.6 L442.0,120.8 L444.5,120.2 L447.1,119.6 L449.9,119.0 L452.7,118.5 L455.7,118.0 L458.8,117.6 L462.1,117.2 L465.6,116.9 L469.3,116.6 L473.2,116.4 L477.5,116.2 L482.4,116.1 L488.1,116.0 L498.0,116.0 L507.9,116.0 L513.6,116.1 L518.5,116.2 L522.8,116.4 L526.7,116.6 L530.4,116.9 L533.9,117.2 L537.2,117.6 L540.3,118.0 L543.3,118.5 L546.1,119.0 L548.9,119.6 L551.5,120.2 L554.0,120.8 L556.5,121.6 L558.8,122.3 L561.1,123.1 L563.3,124.0 L565.4,124.9 L567.5,125.9 L569.4,126.9 L571.3,128.0 L573.1,129.1 L574.9,130.3 L576.6,131.5 L578.2,132.7 L579.7,134.1 L581.2,135.5 L582.6,136.9 L584.0,138.4 L585.2,139.9 L586.4,141.5 L587.6,143.2 L588.7,144.9 L589.7,146.7 L590.6,148.6 L591.5,150.5 L592.3,152.5 L593.1,154.6 L593.7,156.7 L594.4,159.0 L594.9,161.3 L595.4,163.8 L595.8,166.4 L596.2,169.2 L596.5,172.2 L596.7,175.5 L596.9,179.2 L597.0,183.5Z" fill="none" stroke="#f9d9d9" stroke-width="6"/>
<path d="M419.3,150.8 L419.8,150.1 L420.3,149.4 L420.8,148.8 L421.3,148.1 L421.9,147.4 L422.5,146.8 L423.0,146.2 L423.6,145.5 L424.3,144.9 L424.9,144.3 L425.5,143.8 L426.2,143.2 L426.8,142.6 L427.5,142.1 L428.2,141.5 L428.9,141.0 L429.7,140.5 L430.4,140.0 L431.2,139.5 L432.0,139.0 L432.8,138.5 L433.6,138.1 L434.4,137.6 L435.2,137.2 L436.1,136.7 L437.0,136.3 L437.8,135.9 L438.7,135.5 L439.7,135.1 L440.6,134.7 L441.6,134.4 L442.5,134.0 L443.5,133.6 L444.5,133.3 L445.6,133.0 L446.6,132.7 L447.7,132.4 L448.8,132.1 L449.9,131.8 L451.0,131.5 L452.1,131.2 L453.3,131.0 L454.5,130.7 L455.7,130.5 L457.0,130.3 L458.2,130.1 L459.5,129.9 L460.9,129.7 L462.2,129.5 L463.6,129.3 L465.0,129.2 L466.5,129.0 L468.0,128.9 L469.5,128.7 L471.1,128.6 L472.7,128.5 L474.4,128.4 L476.2,128.3 L478.1,128.3 L480.0,128.2 L482.1,128.1 L484.3,128.1 L486.7,128.0 L489.3,128.0 L492.5,128.0 L498.0,128.0 L503.5,128.0 L506.7,128.0 L509.3,128.0 L511.7,128.1 L513.9,128.1 L516.0,128.2 L517.9,128.3 L519.8,128.3 L521.6,128.4 L523.3,128.5 L524.9,128.6 L526.5,128.7 L528.0,128.9 L529.5,129.0 L531.0,129.2 L532.4,129.3 L533.8,129.5 L535.1,129.7 L536.5,129.9 L537.8,130.1 L539.0,130.3 L540.3,130.5 L541.5,130.7 L542.7,131.0 L543.9,131.2 L545.0,131.5 L546.1,131.8 L547.2,132.1 L548.3,132.4 L549.4,132.7 L550.4,133.0 L551.5,133.3 L552.5,133.6 L553.5,134.0 L554.4,134.4 L555.4,134.7 L556.3,135.1 L557.3,135.5 L558.2,135.9 L559.0,136.3 L559.9,136.7 L560.8,137.2 L561.6,137.6 L562.4,138.1 L563.2,138.5 L564.0,139.0 L564.8,139.5 L565.6,140.0 L566.3,140.5 L567.1,141.0 L567.8,141.5 L568.5,142.1 L569.2,142.6 L569.8,143.2 L570.5,143.8 L571.1,144.3 L571.7,144.9 L572.4,145.5 L573.0,146.2 L573.5,146.8 L574.1,147.4 L574.7,148.1 L575.2,148.8 L575.7,149.4 L576.2,150.1 L576.7,150.8" fill="none" stroke="#f9d9d9" stroke-width="10" stroke-linecap="round"/>
<clipPath id="gcl"><rect x="396.0" y="203.0" width="204.0" height="50"/></clipPath>
<path d="M588.5,191.0 L588.5,193.4 L588.4,195.2 L588.2,196.8 L587.9,198.3 L587.6,199.7 L587.2,201.1 L586.8,202.4 L586.2,203.6 L585.6,204.9 L584.9,206.0 L584.2,207.2 L583.4,208.3 L582.5,209.4 L581.5,210.4 L580.5,211.5 L579.4,212.5 L578.3,213.4 L577.0,214.4 L575.7,215.3 L574.4,216.2 L573.0,217.0 L571.5,217.9 L569.9,218.7 L568.3,219.4 L566.6,220.2 L564.8,220.9 L563.0,221.6 L561.1,222.3 L559.2,222.9 L557.2,223.5 L555.1,224.1 L552.9,224.6 L550.7,225.1 L548.5,225.6 L546.1,226.1 L543.7,226.5 L541.2,226.9 L538.7,227.3 L536.1,227.7 L533.4,228.0 L530.6,228.3 L527.7,228.5 L524.8,228.8 L521.7,229.0 L518.5,229.1 L515.2,229.3 L511.7,229.4 L507.9,229.4 L503.7,229.5 L498.0,229.5 L492.3,229.5 L488.1,229.4 L484.3,229.4 L480.8,229.3 L477.5,229.1 L474.3,229.0 L471.2,228.8 L468.3,228.5 L465.4,228.3 L462.6,228.0 L459.9,227.7 L457.3,227.3 L454.8,226.9 L452.3,226.5 L449.9,226.1 L447.5,225.6 L445.3,225.1 L443.1,224.6 L440.9,224.1 L438.8,223.5 L436.8,222.9 L434.9,222.3 L433.0,221.6 L431.2,220.9 L429.4,220.2 L427.7,219.4 L426.1,218.7 L424.5,217.9 L423.0,217.0 L421.6,216.2 L420.3,215.3 L419.0,214.4 L417.7,213.4 L416.6,212.5 L415.5,211.5 L414.5,210.4 L413.5,209.4 L412.6,208.3 L411.8,207.2 L411.1,206.0 L410.4,204.9 L409.8,203.6 L409.2,202.4 L408.8,201.1 L408.4,199.7 L408.1,198.3 L407.8,196.8 L407.6,195.2 L407.5,193.4 L407.5,191.0 L407.5,184.4 L407.6,180.5 L407.8,177.2 L408.0,174.3 L408.2,171.7 L408.6,169.2 L409.0,166.9 L409.4,164.7 L409.9,162.6 L410.5,160.6 L411.1,158.7 L411.8,156.8 L412.5,155.1 L413.3,153.4 L414.2,151.7 L415.1,150.1 L416.1,148.6 L417.2,147.1 L418.3,145.7 L419.4,144.3 L420.7,143.0 L421.9,141.7 L423.3,140.5 L424.7,139.3 L426.2,138.2 L427.7,137.1 L429.3,136.1 L431.0,135.1 L432.7,134.2 L434.5,133.3 L436.4,132.4 L438.3,131.6 L440.3,130.8 L442.4,130.1 L444.5,129.4 L446.8,128.8 L449.1,128.2 L451.5,127.7 L454.0,127.1 L456.6,126.7 L459.4,126.3 L462.2,125.9 L465.2,125.6 L468.4,125.3 L471.7,125.0 L475.3,124.9 L479.3,124.7 L483.7,124.6 L489.0,124.5 L498.0,124.5 L507.0,124.5 L512.3,124.6 L516.7,124.7 L520.7,124.9 L524.3,125.0 L527.6,125.3 L530.8,125.6 L533.8,125.9 L536.6,126.3 L539.4,126.7 L542.0,127.1 L544.5,127.7 L546.9,128.2 L549.2,128.8 L551.5,129.4 L553.6,130.1 L555.7,130.8 L557.7,131.6 L559.6,132.4 L561.5,133.3 L563.3,134.2 L565.0,135.1 L566.7,136.1 L568.3,137.1 L569.8,138.2 L571.3,139.3 L572.7,140.5 L574.1,141.7 L575.3,143.0 L576.6,144.3 L577.7,145.7 L578.8,147.1 L579.9,148.6 L580.9,150.1 L581.8,151.7 L582.7,153.4 L583.5,155.1 L584.2,156.8 L584.9,158.7 L585.5,160.6 L586.1,162.6 L586.6,164.7 L587.0,166.9 L587.4,169.2 L587.8,171.7 L588.0,174.3 L588.2,177.2 L588.4,180.5 L588.5,184.4Z" fill="#f9d9d9" clip-path="url(#gcl)"/>
<clipPath id="lcl"><path d="M576.0,191.0 L576.0,192.6 L575.9,193.8 L575.7,194.9 L575.5,195.9 L575.2,196.9 L574.9,197.8 L574.5,198.7 L574.0,199.5 L573.5,200.4 L572.9,201.2 L572.3,201.9 L571.6,202.7 L570.8,203.4 L570.0,204.1 L569.1,204.8 L568.2,205.5 L567.2,206.1 L566.1,206.8 L565.0,207.4 L563.8,208.0 L562.6,208.6 L561.3,209.1 L560.0,209.7 L558.6,210.2 L557.1,210.7 L555.6,211.2 L554.0,211.7 L552.4,212.1 L550.7,212.5 L549.0,212.9 L547.2,213.3 L545.3,213.7 L543.4,214.1 L541.5,214.4 L539.5,214.7 L537.4,215.0 L535.3,215.3 L533.1,215.5 L530.8,215.8 L528.5,216.0 L526.1,216.2 L523.6,216.3 L521.1,216.5 L518.4,216.6 L515.7,216.7 L512.8,216.8 L509.8,216.9 L506.5,217.0 L502.9,217.0 L498.0,217.0 L493.1,217.0 L489.5,217.0 L486.2,216.9 L483.2,216.8 L480.3,216.7 L477.6,216.6 L474.9,216.5 L472.4,216.3 L469.9,216.2 L467.5,216.0 L465.2,215.8 L462.9,215.5 L460.7,215.3 L458.6,215.0 L456.5,214.7 L454.5,214.4 L452.6,214.1 L450.7,213.7 L448.8,213.3 L447.0,212.9 L445.3,212.5 L443.6,212.1 L442.0,211.7 L440.4,211.2 L438.9,210.7 L437.4,210.2 L436.0,209.7 L434.7,209.1 L433.4,208.6 L432.2,208.0 L431.0,207.4 L429.9,206.8 L428.8,206.1 L427.8,205.5 L426.9,204.8 L426.0,204.1 L425.2,203.4 L424.4,202.7 L423.7,201.9 L423.1,201.2 L422.5,200.4 L422.0,199.5 L421.5,198.7 L421.1,197.8 L420.8,196.9 L420.5,195.9 L420.3,194.9 L420.1,193.8 L420.0,192.6 L420.0,191.0 L420.0,185.6 L420.1,182.5 L420.2,179.8 L420.4,177.5 L420.6,175.3 L420.9,173.3 L421.3,171.4 L421.6,169.6 L422.1,167.9 L422.6,166.3 L423.1,164.8 L423.7,163.3 L424.3,161.8 L425.0,160.4 L425.8,159.1 L426.6,157.8 L427.4,156.6 L428.3,155.4 L429.3,154.2 L430.3,153.1 L431.3,152.0 L432.4,151.0 L433.6,150.0 L434.8,149.1 L436.1,148.1 L437.4,147.3 L438.8,146.4 L440.2,145.6 L441.7,144.8 L443.3,144.1 L444.9,143.4 L446.5,142.8 L448.3,142.1 L450.1,141.6 L451.9,141.0 L453.9,140.5 L455.9,140.0 L457.9,139.6 L460.1,139.1 L462.3,138.8 L464.7,138.4 L467.2,138.1 L469.7,137.9 L472.5,137.6 L475.4,137.4 L478.5,137.3 L481.9,137.2 L485.7,137.1 L490.2,137.0 L498.0,137.0 L505.8,137.0 L510.3,137.1 L514.1,137.2 L517.5,137.3 L520.6,137.4 L523.5,137.6 L526.3,137.9 L528.8,138.1 L531.3,138.4 L533.7,138.8 L535.9,139.1 L538.1,139.6 L540.1,140.0 L542.1,140.5 L544.1,141.0 L545.9,141.6 L547.7,142.1 L549.5,142.8 L551.1,143.4 L552.7,144.1 L554.3,144.8 L555.8,145.6 L557.2,146.4 L558.6,147.3 L559.9,148.1 L561.2,149.1 L562.4,150.0 L563.6,151.0 L564.7,152.0 L565.7,153.1 L566.7,154.2 L567.7,155.4 L568.6,156.6 L569.4,157.8 L570.2,159.1 L571.0,160.4 L571.7,161.8 L572.3,163.3 L572.9,164.8 L573.4,166.3 L573.9,167.9 L574.4,169.6 L574.7,171.4 L575.1,173.3 L575.4,175.3 L575.6,177.5 L575.8,179.8 L575.9,182.5 L576.0,185.6Z"/><rect x="404.0" y="161.0" width="188.0" height="40"/></clipPath>
<g clip-path="url(#lcl)"><g transform="translate(498.0,203.0) scale(1.018,1)" fill="none" stroke-linejoin="round" stroke-linecap="round">
<path d="M-57,-45 Q-68,-51 -76,-45 Q-81,-36 -69,-30 Q-57,-25 -57,-16 Q-60,-9 -70,-10 Q-77,-10 -80,-14 M-23.5,-51 L-23.5,-10.5 M-34,-48 A9,18.8 0 1 0 -34,-10.4 A9,18.8 0 1 0 -34,-48 M-8.5,-60 L-0.5,-10.5 L10.5,-42 L21.5,-10.5 L29.5,-60 M44,-60 L44,-10.5 M57.5,-10.5 L57.5,-58 L73.5,-30 L89.5,-58 L89.5,-10.5" stroke="#f9d9d9" stroke-width="12.8"/>
</g></g>
<text x="495.0" y="223.0" text-anchor="middle" font-family="Liberation Sans" font-style="italic" font-size="23.5" fill="#fff" stroke="#fff" stroke-width="0.8" textLength="80" lengthAdjust="spacingAndGlyphs">GROUP</text>
<path d="M811.5,518.0 L811.5,521.0 L811.3,523.2 L811.2,525.2 L810.9,527.1 L810.5,528.9 L810.1,530.6 L809.6,532.2 L809.1,533.8 L808.4,535.3 L807.7,536.8 L806.9,538.2 L806.0,539.6 L805.1,540.9 L804.0,542.2 L802.9,543.5 L801.8,544.8 L800.5,546.0 L799.2,547.1 L797.8,548.3 L796.4,549.4 L794.8,550.4 L793.2,551.5 L791.5,552.5 L789.8,553.4 L788.0,554.4 L786.1,555.3 L784.2,556.1 L782.1,557.0 L780.0,557.8 L777.9,558.5 L775.6,559.2 L773.3,559.9 L771.0,560.6 L768.5,561.2 L766.0,561.8 L763.4,562.3 L760.8,562.8 L758.1,563.3 L755.2,563.7 L752.3,564.1 L749.4,564.5 L746.3,564.8 L743.1,565.1 L739.8,565.3 L736.4,565.5 L732.8,565.7 L729.1,565.8 L725.0,565.9 L720.5,566.0 L714.4,566.0 L708.3,566.0 L703.8,565.9 L699.7,565.8 L696.0,565.7 L692.4,565.5 L689.0,565.3 L685.7,565.1 L682.5,564.8 L679.4,564.5 L676.5,564.1 L673.6,563.7 L670.7,563.3 L668.0,562.8 L665.4,562.3 L662.8,561.8 L660.3,561.2 L657.8,560.6 L655.5,559.9 L653.2,559.2 L650.9,558.5 L648.8,557.8 L646.7,557.0 L644.6,556.1 L642.7,555.3 L640.8,554.4 L639.0,553.4 L637.3,552.5 L635.6,551.5 L634.0,550.4 L632.4,549.4 L631.0,548.3 L629.6,547.1 L628.3,546.0 L627.0,544.8 L625.9,543.5 L624.8,542.2 L623.7,540.9 L622.8,539.6 L621.9,538.2 L621.1,536.8 L620.4,535.3 L619.7,533.8 L619.2,532.2 L618.7,530.6 L618.3,528.9 L617.9,527.1 L617.6,525.2 L617.5,523.2 L617.3,521.0 L617.3,518.0 L617.3,510.2 L617.4,505.6 L617.6,501.8 L617.8,498.4 L618.1,495.2 L618.5,492.3 L618.9,489.6 L619.3,487.0 L619.9,484.5 L620.5,482.2 L621.2,479.9 L621.9,477.7 L622.7,475.6 L623.6,473.6 L624.5,471.7 L625.5,469.8 L626.5,468.0 L627.7,466.3 L628.8,464.6 L630.1,463.0 L631.4,461.4 L632.8,459.9 L634.2,458.5 L635.8,457.1 L637.3,455.8 L639.0,454.5 L640.7,453.3 L642.5,452.1 L644.3,451.0 L646.3,449.9 L648.3,448.9 L650.3,448.0 L652.5,447.1 L654.7,446.2 L657.0,445.4 L659.4,444.7 L661.9,444.0 L664.5,443.3 L667.2,442.7 L670.0,442.2 L672.9,441.7 L676.0,441.3 L679.2,440.9 L682.6,440.5 L686.2,440.2 L690.1,440.0 L694.3,439.8 L699.1,439.7 L704.7,439.6 L714.4,439.6 L724.1,439.6 L729.7,439.7 L734.5,439.8 L738.7,440.0 L742.6,440.2 L746.2,440.5 L749.6,440.9 L752.8,441.3 L755.9,441.7 L758.8,442.2 L761.6,442.7 L764.3,443.3 L766.9,444.0 L769.4,444.7 L771.8,445.4 L774.1,446.2 L776.3,447.1 L778.5,448.0 L780.5,448.9 L782.5,449.9 L784.5,451.0 L786.3,452.1 L788.1,453.3 L789.8,454.5 L791.5,455.8 L793.0,457.1 L794.6,458.5 L796.0,459.9 L797.4,461.4 L798.7,463.0 L800.0,464.6 L801.1,466.3 L802.3,468.0 L803.3,469.8 L804.3,471.7 L805.2,473.6 L806.1,475.6 L806.9,477.7 L807.6,479.9 L808.3,482.2 L808.9,484.5 L809.5,487.0 L809.9,489.6 L810.3,492.3 L810.7,495.2 L811.0,498.4 L811.2,501.8 L811.4,505.6 L811.5,510.2Z" fill="none" stroke="#f9d9d9" stroke-width="6"/>
<path d="M636.0,478.0 L636.5,477.2 L636.9,476.4 L637.4,475.7 L637.9,474.9 L638.4,474.2 L638.9,473.5 L639.4,472.8 L640.0,472.1 L640.5,471.4 L641.1,470.7 L641.7,470.1 L642.3,469.4 L642.9,468.8 L643.5,468.2 L644.1,467.6 L644.8,467.0 L645.5,466.4 L646.2,465.9 L646.9,465.3 L647.6,464.8 L648.3,464.2 L649.0,463.7 L649.8,463.2 L650.6,462.7 L651.4,462.2 L652.2,461.7 L653.0,461.2 L653.8,460.8 L654.7,460.3 L655.6,459.9 L656.4,459.5 L657.3,459.1 L658.3,458.7 L659.2,458.3 L660.1,457.9 L661.1,457.6 L662.1,457.2 L663.1,456.9 L664.1,456.5 L665.2,456.2 L666.2,455.9 L667.3,455.6 L668.4,455.3 L669.5,455.0 L670.7,454.7 L671.9,454.5 L673.0,454.2 L674.3,454.0 L675.5,453.8 L676.8,453.6 L678.1,453.4 L679.4,453.2 L680.7,453.0 L682.1,452.8 L683.6,452.7 L685.0,452.5 L686.5,452.4 L688.1,452.3 L689.7,452.1 L691.4,452.0 L693.1,451.9 L694.9,451.9 L696.8,451.8 L698.8,451.7 L701.0,451.7 L703.3,451.6 L705.9,451.6 L709.1,451.6 L714.4,451.6 L719.7,451.6 L722.9,451.6 L725.5,451.6 L727.8,451.7 L730.0,451.7 L732.0,451.8 L733.9,451.9 L735.7,451.9 L737.4,452.0 L739.1,452.1 L740.7,452.3 L742.3,452.4 L743.8,452.5 L745.2,452.7 L746.7,452.8 L748.1,453.0 L749.4,453.2 L750.7,453.4 L752.0,453.6 L753.3,453.8 L754.5,454.0 L755.8,454.2 L756.9,454.5 L758.1,454.7 L759.3,455.0 L760.4,455.3 L761.5,455.6 L762.6,455.9 L763.6,456.2 L764.7,456.5 L765.7,456.9 L766.7,457.2 L767.7,457.6 L768.7,457.9 L769.6,458.3 L770.5,458.7 L771.5,459.1 L772.4,459.5 L773.2,459.9 L774.1,460.3 L775.0,460.8 L775.8,461.2 L776.6,461.7 L777.4,462.2 L778.2,462.7 L779.0,463.2 L779.8,463.7 L780.5,464.2 L781.2,464.8 L781.9,465.3 L782.6,465.9 L783.3,466.4 L784.0,467.0 L784.7,467.6 L785.3,468.2 L785.9,468.8 L786.5,469.4 L787.1,470.1 L787.7,470.7 L788.3,471.4 L788.8,472.1 L789.4,472.8 L789.9,473.5 L790.4,474.2 L790.9,474.9 L791.4,475.7 L791.9,476.4 L792.3,477.2 L792.8,478.0" fill="none" stroke="#f9d9d9" stroke-width="10" stroke-linecap="round"/>
<clipPath id="gcb"><rect x="614.3" y="530.0" width="200.20000000000005" height="51"/></clipPath>
<path d="M803.0,518.0 L803.0,520.5 L802.9,522.3 L802.7,524.0 L802.4,525.5 L802.1,527.0 L801.7,528.3 L801.3,529.7 L800.8,531.0 L800.2,532.2 L799.5,533.4 L798.8,534.6 L798.0,535.8 L797.1,536.9 L796.2,538.0 L795.2,539.0 L794.1,540.0 L793.0,541.0 L791.8,542.0 L790.5,542.9 L789.2,543.8 L787.8,544.7 L786.3,545.6 L784.8,546.4 L783.2,547.2 L781.5,547.9 L779.8,548.7 L778.0,549.4 L776.2,550.1 L774.3,550.7 L772.3,551.3 L770.3,551.9 L768.2,552.5 L766.0,553.0 L763.8,553.5 L761.5,554.0 L759.1,554.5 L756.7,554.9 L754.2,555.3 L751.7,555.6 L749.0,555.9 L746.3,556.2 L743.5,556.5 L740.6,556.7 L737.6,556.9 L734.5,557.1 L731.2,557.3 L727.8,557.4 L724.1,557.4 L720.0,557.5 L714.4,557.5 L708.8,557.5 L704.7,557.4 L701.0,557.4 L697.6,557.3 L694.3,557.1 L691.2,556.9 L688.2,556.7 L685.3,556.5 L682.5,556.2 L679.8,555.9 L677.1,555.6 L674.6,555.3 L672.1,554.9 L669.7,554.5 L667.3,554.0 L665.0,553.5 L662.8,553.0 L660.6,552.5 L658.5,551.9 L656.5,551.3 L654.5,550.7 L652.6,550.1 L650.8,549.4 L649.0,548.7 L647.3,547.9 L645.6,547.2 L644.0,546.4 L642.5,545.6 L641.0,544.7 L639.6,543.8 L638.3,542.9 L637.0,542.0 L635.8,541.0 L634.7,540.0 L633.6,539.0 L632.6,538.0 L631.7,536.9 L630.8,535.8 L630.0,534.6 L629.3,533.4 L628.6,532.2 L628.0,531.0 L627.5,529.7 L627.1,528.3 L626.7,527.0 L626.4,525.5 L626.1,524.0 L625.9,522.3 L625.8,520.5 L625.8,518.0 L625.8,511.0 L625.9,507.0 L626.1,503.5 L626.3,500.5 L626.5,497.7 L626.8,495.1 L627.2,492.7 L627.7,490.4 L628.2,488.2 L628.7,486.1 L629.3,484.0 L630.0,482.1 L630.7,480.2 L631.5,478.4 L632.4,476.7 L633.3,475.0 L634.2,473.4 L635.3,471.9 L636.3,470.4 L637.5,469.0 L638.7,467.6 L639.9,466.2 L641.3,464.9 L642.6,463.7 L644.1,462.5 L645.6,461.4 L647.1,460.3 L648.8,459.3 L650.5,458.3 L652.2,457.3 L654.1,456.4 L656.0,455.6 L657.9,454.8 L660.0,454.0 L662.1,453.3 L664.3,452.6 L666.5,452.0 L668.9,451.4 L671.3,450.9 L673.9,450.4 L676.6,450.0 L679.4,449.6 L682.3,449.2 L685.4,448.9 L688.7,448.7 L692.2,448.5 L696.1,448.3 L700.4,448.2 L705.6,448.1 L714.4,448.1 L723.2,448.1 L728.4,448.2 L732.7,448.3 L736.6,448.5 L740.1,448.7 L743.4,448.9 L746.5,449.2 L749.4,449.6 L752.2,450.0 L754.9,450.4 L757.5,450.9 L759.9,451.4 L762.3,452.0 L764.5,452.6 L766.7,453.3 L768.8,454.0 L770.9,454.8 L772.8,455.6 L774.7,456.4 L776.6,457.3 L778.3,458.3 L780.0,459.3 L781.7,460.3 L783.2,461.4 L784.7,462.5 L786.2,463.7 L787.5,464.9 L788.9,466.2 L790.1,467.6 L791.3,469.0 L792.5,470.4 L793.5,471.9 L794.6,473.4 L795.5,475.0 L796.4,476.7 L797.3,478.4 L798.1,480.2 L798.8,482.1 L799.5,484.0 L800.1,486.1 L800.6,488.2 L801.1,490.4 L801.6,492.7 L802.0,495.1 L802.3,497.7 L802.5,500.5 L802.7,503.5 L802.9,507.0 L803.0,511.0Z" fill="#f9d9d9" clip-path="url(#gcb)"/>
<clipPath id="lcb"><path d="M790.5,518.0 L790.5,519.7 L790.4,520.9 L790.2,522.1 L790.0,523.1 L789.7,524.1 L789.4,525.1 L789.0,526.0 L788.6,526.9 L788.1,527.7 L787.5,528.6 L786.9,529.4 L786.2,530.1 L785.5,530.9 L784.6,531.6 L783.8,532.4 L782.9,533.1 L781.9,533.7 L780.9,534.4 L779.8,535.0 L778.6,535.6 L777.4,536.3 L776.2,536.8 L774.9,537.4 L773.5,537.9 L772.1,538.5 L770.6,539.0 L769.1,539.5 L767.5,539.9 L765.8,540.4 L764.1,540.8 L762.4,541.2 L760.6,541.6 L758.7,541.9 L756.8,542.3 L754.9,542.6 L752.8,542.9 L750.8,543.2 L748.6,543.5 L746.4,543.7 L744.1,543.9 L741.8,544.1 L739.4,544.3 L736.9,544.5 L734.3,544.6 L731.7,544.7 L728.8,544.8 L725.9,544.9 L722.7,545.0 L719.2,545.0 L714.4,545.0 L709.6,545.0 L706.1,545.0 L702.9,544.9 L700.0,544.8 L697.1,544.7 L694.5,544.6 L691.9,544.5 L689.4,544.3 L687.0,544.1 L684.7,543.9 L682.4,543.7 L680.2,543.5 L678.0,543.2 L676.0,542.9 L673.9,542.6 L672.0,542.3 L670.1,541.9 L668.2,541.6 L666.4,541.2 L664.7,540.8 L663.0,540.4 L661.3,539.9 L659.7,539.5 L658.2,539.0 L656.7,538.5 L655.3,537.9 L653.9,537.4 L652.6,536.8 L651.4,536.3 L650.2,535.6 L649.0,535.0 L647.9,534.4 L646.9,533.7 L645.9,533.1 L645.0,532.4 L644.2,531.6 L643.3,530.9 L642.6,530.1 L641.9,529.4 L641.3,528.6 L640.7,527.7 L640.2,526.9 L639.8,526.0 L639.4,525.1 L639.1,524.1 L638.8,523.1 L638.6,522.1 L638.4,520.9 L638.3,519.7 L638.3,518.0 L638.3,512.3 L638.4,508.9 L638.5,506.1 L638.7,503.6 L638.9,501.3 L639.2,499.2 L639.5,497.2 L639.9,495.3 L640.3,493.5 L640.8,491.8 L641.3,490.1 L641.9,488.5 L642.5,487.0 L643.2,485.5 L643.9,484.1 L644.7,482.7 L645.5,481.4 L646.4,480.1 L647.3,478.9 L648.3,477.7 L649.4,476.6 L650.4,475.5 L651.6,474.4 L652.8,473.4 L654.0,472.4 L655.3,471.5 L656.6,470.6 L658.0,469.8 L659.5,468.9 L661.0,468.2 L662.6,467.4 L664.2,466.7 L665.9,466.1 L667.6,465.4 L669.4,464.9 L671.3,464.3 L673.3,463.8 L675.3,463.3 L677.4,462.9 L679.6,462.5 L681.9,462.1 L684.3,461.8 L686.8,461.5 L689.5,461.3 L692.3,461.1 L695.3,460.9 L698.7,460.8 L702.4,460.7 L706.8,460.6 L714.4,460.6 L722.0,460.6 L726.4,460.7 L730.1,460.8 L733.5,460.9 L736.5,461.1 L739.3,461.3 L742.0,461.5 L744.5,461.8 L746.9,462.1 L749.2,462.5 L751.4,462.9 L753.5,463.3 L755.5,463.8 L757.5,464.3 L759.4,464.9 L761.2,465.4 L762.9,466.1 L764.6,466.7 L766.2,467.4 L767.8,468.2 L769.3,468.9 L770.8,469.8 L772.2,470.6 L773.5,471.5 L774.8,472.4 L776.0,473.4 L777.2,474.4 L778.4,475.5 L779.4,476.6 L780.5,477.7 L781.5,478.9 L782.4,480.1 L783.3,481.4 L784.1,482.7 L784.9,484.1 L785.6,485.5 L786.3,487.0 L786.9,488.5 L787.5,490.1 L788.0,491.8 L788.5,493.5 L788.9,495.3 L789.3,497.2 L789.6,499.2 L789.9,501.3 L790.1,503.6 L790.3,506.1 L790.4,508.9 L790.5,512.3Z"/><rect x="622.3" y="488.0" width="184.20000000000005" height="40"/></clipPath>
<g clip-path="url(#lcb)"><g transform="translate(714.4,530.0) scale(0.999,1)" fill="none" stroke-linejoin="round" stroke-linecap="round">
<path d="M-57,-45 Q-68,-51 -76,-45 Q-81,-36 -69,-30 Q-57,-25 -57,-16 Q-60,-9 -70,-10 Q-77,-10 -80,-14 M-23.5,-51 L-23.5,-10.5 M-34,-48 A9,18.8 0 1 0 -34,-10.4 A9,18.8 0 1 0 -34,-48 M-8.5,-60 L-0.5,-10.5 L10.5,-42 L21.5,-10.5 L29.5,-60 M44,-60 L44,-10.5 M57.5,-10.5 L57.5,-58 L73.5,-30 L89.5,-58 L89.5,-10.5" stroke="#f9d9d9" stroke-width="12.8"/>
</g></g>
<text x="711.4" y="550.0" text-anchor="middle" font-family="Liberation Sans" font-style="italic" font-size="23.5" fill="#fff" stroke="#fff" stroke-width="0.8" textLength="80" lengthAdjust="spacingAndGlyphs">GROUP</text>
</g>
</svg>
</body></html>
